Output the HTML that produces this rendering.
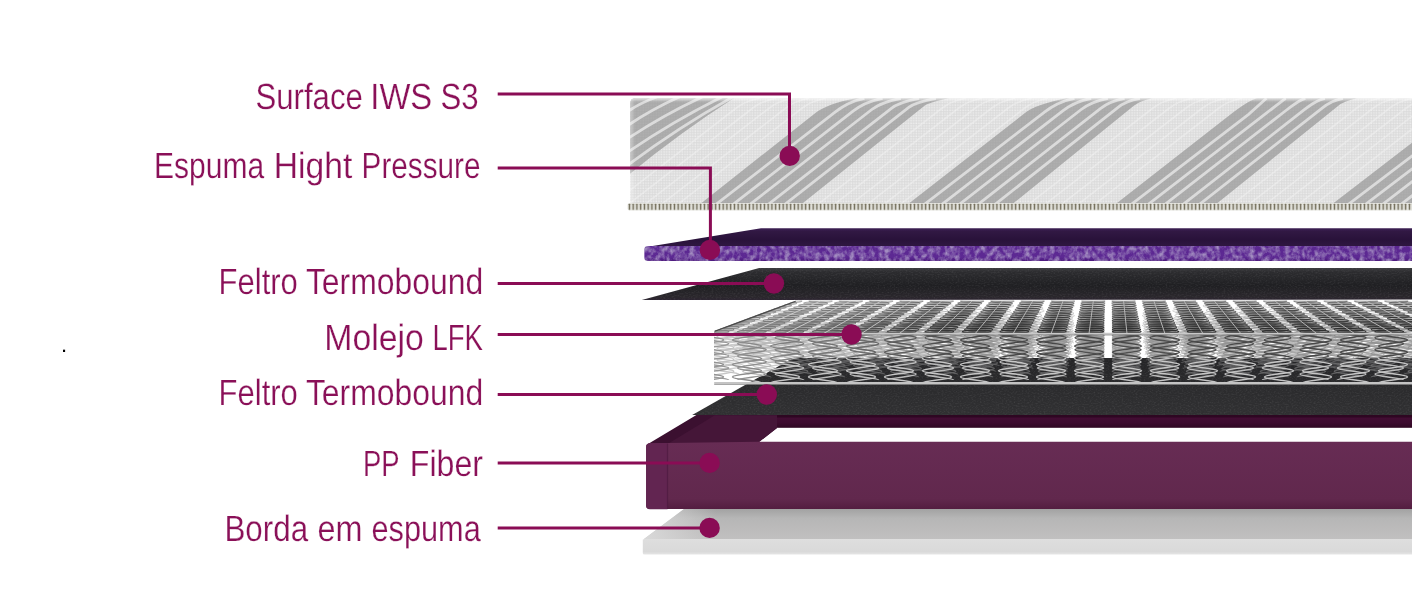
<!DOCTYPE html>
<html lang="pt-BR">
<head>
<meta charset="utf-8">
<title>Camadas do colchão</title>
<style>
html,body{margin:0;padding:0;background:#fff}
body{width:1412px;height:616px;overflow:hidden}
svg{display:block}
</style>
</head>
<body>
<svg width="1412" height="616" viewBox="0 0 1412 616">
<defs>
<pattern id="tex" width="2.6" height="2.6" patternUnits="userSpaceOnUse">
 <rect width="2.6" height="2.6" fill="#d8d8d8"/>
 <rect x="0.3" y="0.3" width="1.7" height="1.7" fill="#ededed"/>
</pattern>
<pattern id="gtex" width="2.6" height="2.6" patternUnits="userSpaceOnUse">
 <rect width="2.6" height="2.6" fill="#a9a9a9"/>
 <rect x="0.3" y="0.3" width="1.7" height="1.7" fill="#b0b0b0"/>
</pattern>
<pattern id="pipe" width="3.75" height="7.6" patternUnits="userSpaceOnUse" x="628" y="203">
 <rect width="3.75" height="7.6" fill="#e6e6e0"/>
 <rect x="0.7" y="0.7" width="1.45" height="6.3" rx=".6" fill="#6f6a56"/>
</pattern>
<linearGradient id="tophl" x1="0" y1="0" x2="0" y2="1">
 <stop offset="0" stop-color="#fff" stop-opacity="1"/>
 <stop offset="0.25" stop-color="#fff" stop-opacity=".75"/>
 <stop offset="1" stop-color="#fff" stop-opacity="0"/>
</linearGradient>
<linearGradient id="lefthl" x1="0" y1="0" x2="1" y2="0">
 <stop offset="0" stop-color="#fff" stop-opacity=".45"/>
 <stop offset="1" stop-color="#fff" stop-opacity="0"/>
</linearGradient>
<linearGradient id="spleft" gradientUnits="userSpaceOnUse" x1="714" y1="0" x2="960" y2="0">
 <stop offset="0" stop-color="#fff" stop-opacity=".42"/>
 <stop offset="1" stop-color="#fff" stop-opacity="0"/>
</linearGradient>
<clipPath id="coverclip"><path d="M630,203 V104 Q630,98 636,98 H1412 V203 Z"/></clipPath>
<linearGradient id="ptop" x1="0" y1="0" x2="0" y2="1">
 <stop offset="0" stop-color="#3d2054"/>
 <stop offset="0.18" stop-color="#311843"/>
 <stop offset="0.6" stop-color="#29123a"/>
 <stop offset="1" stop-color="#2f1742"/>
</linearGradient>
<filter id="speck" x="0" y="0" width="100%" height="100%" color-interpolation-filters="sRGB">
 <feTurbulence type="fractalNoise" baseFrequency="0.2 0.17" numOctaves="3" seed="4" result="n"/>
 <feColorMatrix in="n" type="matrix" values="0 0 0 0 0  0 0 0 0 0  0 0 0 0 0  2.2 0 0 0 -0.78" result="a"/>
 <feFlood flood-color="#a28cc0"/>
 <feComposite operator="in" in2="a" result="light"/>
 <feMerge><feMergeNode in="SourceGraphic"/><feMergeNode in="light"/></feMerge>
 <feComposite operator="in" in2="SourceGraphic"/>
</filter>
<linearGradient id="pfront" x1="0" y1="0" x2="0" y2="1">
 <stop offset="0" stop-color="#5b2791"/>
 <stop offset="0.75" stop-color="#5d2993"/>
 <stop offset="1" stop-color="#4d1a7e"/>
</linearGradient>
<linearGradient id="felt1" x1="0" y1="0" x2="0" y2="1">
 <stop offset="0" stop-color="#3c3c3f"/>
 <stop offset="0.12" stop-color="#2c2c2f"/>
 <stop offset="0.55" stop-color="#1f1f22"/>
 <stop offset="0.9" stop-color="#2a272c"/>
 <stop offset="1" stop-color="#2c2430"/>
</linearGradient>
<linearGradient id="felt2" x1="0" y1="0" x2="0" y2="1">
 <stop offset="0" stop-color="#242426"/>
 <stop offset="0.5" stop-color="#2b2b2d"/>
 <stop offset="1" stop-color="#303032"/>
</linearGradient>
<filter id="feltn" x="0" y="0" width="100%" height="100%" color-interpolation-filters="sRGB">
 <feTurbulence type="fractalNoise" baseFrequency="0.5 0.9" numOctaves="2" seed="9" result="n"/>
 <feColorMatrix in="n" type="matrix" values="0 0 0 0 1  0 0 0 0 1  0 0 0 0 1  1.4 0 0 0 -0.62" result="a"/>
 <feComposite operator="in" in="a" in2="SourceGraphic" result="b"/>
 <feComponentTransfer in="b" result="c"><feFuncA type="linear" slope="0.13"/></feComponentTransfer>
 <feMerge><feMergeNode in="SourceGraphic"/><feMergeNode in="c"/></feMerge>
</filter>
<linearGradient id="ppfront" x1="0" y1="0" x2="0" y2="1">
 <stop offset="0" stop-color="#672c54"/>
 <stop offset="0.85" stop-color="#61284d"/>
 <stop offset="1" stop-color="#531d40"/>
</linearGradient>
<linearGradient id="ppback" x1="0" y1="0" x2="0" y2="1">
 <stop offset="0" stop-color="#440e35"/>
 <stop offset="0.6" stop-color="#3d0c2f"/>
 <stop offset="1" stop-color="#2f0822"/>
</linearGradient>
<linearGradient id="foamtop" gradientUnits="userSpaceOnUse" x1="0" y1="509" x2="0" y2="539.6">
 <stop offset="0" stop-color="#a2a2a2"/>
 <stop offset="0.3" stop-color="#b6b6b6"/>
 <stop offset="1" stop-color="#c1c0c0"/>
</linearGradient>
<linearGradient id="foamleft" x1="0" y1="0" x2="1" y2="0">
 <stop offset="0" stop-color="#dcdcdc" stop-opacity=".9"/>
 <stop offset="1" stop-color="#dcdcdc" stop-opacity="0"/>
</linearGradient>
<linearGradient id="foamfront" x1="0" y1="0" x2="0" y2="1">
 <stop offset="0" stop-color="#dedede"/>
 <stop offset="0.8" stop-color="#d9d9d9"/>
 <stop offset="1" stop-color="#e6e6e6"/>
</linearGradient>
<clipPath id="springclip"><path d="M714,384.5 V331.2 L796,300.6 H1412 V384.5 Z"/></clipPath>
<clipPath id="feltzone"><path d="M692.2,414.9 L793,358 H1412 V414.9 Z"/></clipPath>
<clipPath id="whitezone"><path d="M600,290 H1412 V358 H793 L692.2,414.9 H600 Z"/></clipPath>
<clipPath id="topzone"><path d="M700,290 H1412 V334.5 H700 Z"/></clipPath>
</defs>
<style>.wl{fill:none;stroke:#dbdbdb;stroke-width:2.8}.fl{fill:none;stroke:#f4f4f4;stroke-width:1.6;opacity:.45}.ln{fill:none;stroke:#8a0c55;stroke-width:3}.dot{fill:#8a0c55}text{font-family:"Liberation Sans",sans-serif;text-rendering:geometricPrecision;font-size:36.5px;fill:#8a1058;stroke:#fff;stroke-width:.25}</style>
<rect width="1412" height="616" fill="#fff"/>
<g id="foam">
<polygon points="643.4,539.6 682,510.5 700,497 1412,497 1412,539.6" fill="url(#foamtop)"/>
<polygon points="643.4,539.6 700,497 716,497 716,539.6" fill="url(#foamleft)"/>
<path d="M642.8,539.4 H1412 V554.6 H644.5 Q642.8,554.6 642.8,553 Z" fill="url(#foamfront)"/>
</g>
<g id="pp">
<rect x="770" y="415" width="650" height="12.8" fill="url(#ppback)"/>
<polygon points="648,444 696.4,415 777,415 777,428 759,442 759,444" fill="#3b1030"/>
<polygon points="667.5,444 714.5,415.6 777,415.6 777,428 759,442 759,444" fill="#451638"/>
<polygon points="777,415 1412,415 1412,417.5 777,417.5" fill="#2e0722"/>
<path d="M646.1,447 Q646.1,443.3 650,443.3 L759,441.8 H1412 V509 H650 Q646.1,509 646.1,505.5 Z" fill="url(#ppfront)"/>
<path d="M646.1,447 Q646.1,443.3 650,443.3 H667.5 V509.3 H650 Q646.1,509.3 646.1,505.5 Z" fill="#622551"/>
<rect x="666.9" y="443.5" width="1.2" height="65.5" fill="#4d1a40" opacity=".7"/>
</g>
<polygon points="692.2,414.9 793,358 1412,358 1412,414.9" fill="url(#felt2)" filter="url(#feltn)"/>
<defs><g id="coilsB">
<path d="M801.9,301C801.9,303.1 778.7,303.8 778.7,305.9S801.9,308.7 801.9,310.8S778.7,313.7 778.7,315.7S801.9,318.6 801.9,320.6S778.7,323.5 778.7,325.5S801.9,328.4 801.9,330.4S778.7,333.3 778.7,335.3S801.9,338.2 801.9,340.2 M809,301C809,303.1 832.1,303.8 832.1,305.9S809,308.7 809,310.8S832.1,313.7 832.1,315.7S809,318.6 809,320.6S832.1,323.5 832.1,325.5S809,328.4 809,330.4S832.1,333.3 832.1,335.3S809,338.2 809,340.2 M862.4,301C862.4,303.1 839.3,303.8 839.3,305.9S862.4,308.7 862.4,310.8S839.3,313.7 839.3,315.7S862.4,318.6 862.4,320.6S839.3,323.5 839.3,325.5S862.4,328.4 862.4,330.4S839.3,333.3 839.3,335.3S862.4,338.2 862.4,340.2 M869.6,301C869.6,303.1 892.7,303.8 892.7,305.9S869.6,308.7 869.6,310.8S892.7,313.7 892.7,315.7S869.6,318.6 869.6,320.6S892.7,323.5 892.7,325.5S869.6,328.4 869.6,330.4S892.7,333.3 892.7,335.3S869.6,338.2 869.6,340.2 M923,301C923,303.1 899.9,303.8 899.9,305.9S923,308.7 923,310.8S899.9,313.7 899.9,315.7S923,318.6 923,320.6S899.9,323.5 899.9,325.5S923,328.4 923,330.4S899.9,333.3 899.9,335.3S923,338.2 923,340.2 M930.2,301C930.2,303.1 953.3,303.8 953.3,305.9S930.2,308.7 930.2,310.8S953.3,313.7 953.3,315.7S930.2,318.6 930.2,320.6S953.3,323.5 953.3,325.5S930.2,328.4 930.2,330.4S953.3,333.3 953.3,335.3S930.2,338.2 930.2,340.2 M983.6,301C983.6,303.1 960.5,303.8 960.5,305.9S983.6,308.7 983.6,310.8S960.5,313.7 960.5,315.7S983.6,318.6 983.6,320.6S960.5,323.5 960.5,325.5S983.6,328.4 983.6,330.4S960.5,333.3 960.5,335.3S983.6,338.2 983.6,340.2 M990.8,301C990.8,303.1 1013.9,303.8 1013.9,305.9S990.8,308.7 990.8,310.8S1013.9,313.7 1013.9,315.7S990.8,318.6 990.8,320.6S1013.9,323.5 1013.9,325.5S990.8,328.4 990.8,330.4S1013.9,333.3 1013.9,335.3S990.8,338.2 990.8,340.2 M1044.2,301C1044.2,303.1 1021.1,303.8 1021.1,305.9S1044.2,308.7 1044.2,310.8S1021.1,313.7 1021.1,315.7S1044.2,318.6 1044.2,320.6S1021.1,323.5 1021.1,325.5S1044.2,328.4 1044.2,330.4S1021.1,333.3 1021.1,335.3S1044.2,338.2 1044.2,340.2 M1051.4,301C1051.4,303.1 1074.5,303.8 1074.5,305.9S1051.4,308.7 1051.4,310.8S1074.5,313.7 1074.5,315.7S1051.4,318.6 1051.4,320.6S1074.5,323.5 1074.5,325.5S1051.4,328.4 1051.4,330.4S1074.5,333.3 1074.5,335.3S1051.4,338.2 1051.4,340.2 M1104.8,301C1104.8,303.1 1081.7,303.8 1081.7,305.9S1104.8,308.7 1104.8,310.8S1081.7,313.7 1081.7,315.7S1104.8,318.6 1104.8,320.6S1081.7,323.5 1081.7,325.5S1104.8,328.4 1104.8,330.4S1081.7,333.3 1081.7,335.3S1104.8,338.2 1104.8,340.2 M1112,301C1112,303.1 1135.1,303.8 1135.1,305.9S1112,308.7 1112,310.8S1135.1,313.7 1135.1,315.7S1112,318.6 1112,320.6S1135.1,323.5 1135.1,325.5S1112,328.4 1112,330.4S1135.1,333.3 1135.1,335.3S1112,338.2 1112,340.2 M1165.4,301C1165.4,303.1 1142.3,303.8 1142.3,305.9S1165.4,308.7 1165.4,310.8S1142.3,313.7 1142.3,315.7S1165.4,318.6 1165.4,320.6S1142.3,323.5 1142.3,325.5S1165.4,328.4 1165.4,330.4S1142.3,333.3 1142.3,335.3S1165.4,338.2 1165.4,340.2 M1172.6,301C1172.6,303.1 1195.7,303.8 1195.7,305.9S1172.6,308.7 1172.6,310.8S1195.7,313.7 1195.7,315.7S1172.6,318.6 1172.6,320.6S1195.7,323.5 1195.7,325.5S1172.6,328.4 1172.6,330.4S1195.7,333.3 1195.7,335.3S1172.6,338.2 1172.6,340.2 M1226,301C1226,303.1 1202.9,303.8 1202.9,305.9S1226,308.7 1226,310.8S1202.9,313.7 1202.9,315.7S1226,318.6 1226,320.6S1202.9,323.5 1202.9,325.5S1226,328.4 1226,330.4S1202.9,333.3 1202.9,335.3S1226,338.2 1226,340.2 M1233.2,301C1233.2,303.1 1256.3,303.8 1256.3,305.9S1233.2,308.7 1233.2,310.8S1256.3,313.7 1256.3,315.7S1233.2,318.6 1233.2,320.6S1256.3,323.5 1256.3,325.5S1233.2,328.4 1233.2,330.4S1256.3,333.3 1256.3,335.3S1233.2,338.2 1233.2,340.2 M1286.6,301C1286.6,303.1 1263.5,303.8 1263.5,305.9S1286.6,308.7 1286.6,310.8S1263.5,313.7 1263.5,315.7S1286.6,318.6 1286.6,320.6S1263.5,323.5 1263.5,325.5S1286.6,328.4 1286.6,330.4S1263.5,333.3 1263.5,335.3S1286.6,338.2 1286.6,340.2 M1293.8,301C1293.8,303.1 1316.9,303.8 1316.9,305.9S1293.8,308.7 1293.8,310.8S1316.9,313.7 1316.9,315.7S1293.8,318.6 1293.8,320.6S1316.9,323.5 1316.9,325.5S1293.8,328.4 1293.8,330.4S1316.9,333.3 1316.9,335.3S1293.8,338.2 1293.8,340.2 M1347.2,301C1347.2,303.1 1324.1,303.8 1324.1,305.9S1347.2,308.7 1347.2,310.8S1324.1,313.7 1324.1,315.7S1347.2,318.6 1347.2,320.6S1324.1,323.5 1324.1,325.5S1347.2,328.4 1347.2,330.4S1324.1,333.3 1324.1,335.3S1347.2,338.2 1347.2,340.2 M1354.4,301C1354.4,303.1 1377.5,303.8 1377.5,305.9S1354.4,308.7 1354.4,310.8S1377.5,313.7 1377.5,315.7S1354.4,318.6 1354.4,320.6S1377.5,323.5 1377.5,325.5S1354.4,328.4 1354.4,330.4S1377.5,333.3 1377.5,335.3S1354.4,338.2 1354.4,340.2 M1407.8,301C1407.8,303.1 1384.7,303.8 1384.7,305.9S1407.8,308.7 1407.8,310.8S1384.7,313.7 1384.7,315.7S1407.8,318.6 1407.8,320.6S1384.7,323.5 1384.7,325.5S1407.8,328.4 1407.8,330.4S1384.7,333.3 1384.7,335.3S1407.8,338.2 1407.8,340.2 M1415,301C1415,303.1 1438.1,303.8 1438.1,305.9S1415,308.7 1415,310.8S1438.1,313.7 1438.1,315.7S1415,318.6 1415,320.6S1438.1,323.5 1438.1,325.5S1415,328.4 1415,330.4S1438.1,333.3 1438.1,335.3S1415,338.2 1415,340.2" stroke-opacity="0.42" stroke-width="0.9"/>
<path d="M773.1,303.2C773.1,305.3 796.6,306.1 796.6,308.2S773.1,311.1 773.1,313.2S796.6,316.1 796.6,318.1S773.1,321 773.1,323.1S796.6,326 796.6,328.1S773.1,331 773.1,333.1S796.6,336 796.6,338.1S773.1,341 773.1,343.1 M827.4,303.2C827.4,305.3 803.9,306.1 803.9,308.2S827.4,311.1 827.4,313.2S803.9,316.1 803.9,318.1S827.4,321 827.4,323.1S803.9,326 803.9,328.1S827.4,331 827.4,333.1S803.9,336 803.9,338.1S827.4,341 827.4,343.1 M834.7,303.2C834.7,305.3 858.2,306.1 858.2,308.2S834.7,311.1 834.7,313.2S858.2,316.1 858.2,318.1S834.7,321 834.7,323.1S858.2,326 858.2,328.1S834.7,331 834.7,333.1S858.2,336 858.2,338.1S834.7,341 834.7,343.1 M889.1,303.2C889.1,305.3 865.5,306.1 865.5,308.2S889.1,311.1 889.1,313.2S865.5,316.1 865.5,318.1S889.1,321 889.1,323.1S865.5,326 865.5,328.1S889.1,331 889.1,333.1S865.5,336 865.5,338.1S889.1,341 889.1,343.1 M896.4,303.2C896.4,305.3 919.9,306.1 919.9,308.2S896.4,311.1 896.4,313.2S919.9,316.1 919.9,318.1S896.4,321 896.4,323.1S919.9,326 919.9,328.1S896.4,331 896.4,333.1S919.9,336 919.9,338.1S896.4,341 896.4,343.1 M950.7,303.2C950.7,305.3 927.2,306.1 927.2,308.2S950.7,311.1 950.7,313.2S927.2,316.1 927.2,318.1S950.7,321 950.7,323.1S927.2,326 927.2,328.1S950.7,331 950.7,333.1S927.2,336 927.2,338.1S950.7,341 950.7,343.1 M958,303.2C958,305.3 981.5,306.1 981.5,308.2S958,311.1 958,313.2S981.5,316.1 981.5,318.1S958,321 958,323.1S981.5,326 981.5,328.1S958,331 958,333.1S981.5,336 981.5,338.1S958,341 958,343.1 M1012.3,303.2C1012.3,305.3 988.8,306.1 988.8,308.2S1012.3,311.1 1012.3,313.2S988.8,316.1 988.8,318.1S1012.3,321 1012.3,323.1S988.8,326 988.8,328.1S1012.3,331 1012.3,333.1S988.8,336 988.8,338.1S1012.3,341 1012.3,343.1 M1019.6,303.2C1019.6,305.3 1043.1,306.1 1043.1,308.2S1019.6,311.1 1019.6,313.2S1043.1,316.1 1043.1,318.1S1019.6,321 1019.6,323.1S1043.1,326 1043.1,328.1S1019.6,331 1019.6,333.1S1043.1,336 1043.1,338.1S1019.6,341 1019.6,343.1 M1073.9,303.2C1073.9,305.3 1050.4,306.1 1050.4,308.2S1073.9,311.1 1073.9,313.2S1050.4,316.1 1050.4,318.1S1073.9,321 1073.9,323.1S1050.4,326 1050.4,328.1S1073.9,331 1073.9,333.1S1050.4,336 1050.4,338.1S1073.9,341 1073.9,343.1 M1081.2,303.2C1081.2,305.3 1104.7,306.1 1104.7,308.2S1081.2,311.1 1081.2,313.2S1104.7,316.1 1104.7,318.1S1081.2,321 1081.2,323.1S1104.7,326 1104.7,328.1S1081.2,331 1081.2,333.1S1104.7,336 1104.7,338.1S1081.2,341 1081.2,343.1 M1135.5,303.2C1135.5,305.3 1112,306.1 1112,308.2S1135.5,311.1 1135.5,313.2S1112,316.1 1112,318.1S1135.5,321 1135.5,323.1S1112,326 1112,328.1S1135.5,331 1135.5,333.1S1112,336 1112,338.1S1135.5,341 1135.5,343.1 M1142.8,303.2C1142.8,305.3 1166.4,306.1 1166.4,308.2S1142.8,311.1 1142.8,313.2S1166.4,316.1 1166.4,318.1S1142.8,321 1142.8,323.1S1166.4,326 1166.4,328.1S1142.8,331 1142.8,333.1S1166.4,336 1166.4,338.1S1142.8,341 1142.8,343.1 M1197.2,303.2C1197.2,305.3 1173.6,306.1 1173.6,308.2S1197.2,311.1 1197.2,313.2S1173.6,316.1 1173.6,318.1S1197.2,321 1197.2,323.1S1173.6,326 1173.6,328.1S1197.2,331 1197.2,333.1S1173.6,336 1173.6,338.1S1197.2,341 1197.2,343.1 M1204.5,303.2C1204.5,305.3 1228,306.1 1228,308.2S1204.5,311.1 1204.5,313.2S1228,316.1 1228,318.1S1204.5,321 1204.5,323.1S1228,326 1228,328.1S1204.5,331 1204.5,333.1S1228,336 1228,338.1S1204.5,341 1204.5,343.1 M1258.8,303.2C1258.8,305.3 1235.3,306.1 1235.3,308.2S1258.8,311.1 1258.8,313.2S1235.3,316.1 1235.3,318.1S1258.8,321 1258.8,323.1S1235.3,326 1235.3,328.1S1258.8,331 1258.8,333.1S1235.3,336 1235.3,338.1S1258.8,341 1258.8,343.1 M1266.1,303.2C1266.1,305.3 1289.6,306.1 1289.6,308.2S1266.1,311.1 1266.1,313.2S1289.6,316.1 1289.6,318.1S1266.1,321 1266.1,323.1S1289.6,326 1289.6,328.1S1266.1,331 1266.1,333.1S1289.6,336 1289.6,338.1S1266.1,341 1266.1,343.1 M1320.4,303.2C1320.4,305.3 1296.9,306.1 1296.9,308.2S1320.4,311.1 1320.4,313.2S1296.9,316.1 1296.9,318.1S1320.4,321 1320.4,323.1S1296.9,326 1296.9,328.1S1320.4,331 1320.4,333.1S1296.9,336 1296.9,338.1S1320.4,341 1320.4,343.1 M1327.7,303.2C1327.7,305.3 1351.2,306.1 1351.2,308.2S1327.7,311.1 1327.7,313.2S1351.2,316.1 1351.2,318.1S1327.7,321 1327.7,323.1S1351.2,326 1351.2,328.1S1327.7,331 1327.7,333.1S1351.2,336 1351.2,338.1S1327.7,341 1327.7,343.1 M1382,303.2C1382,305.3 1358.5,306.1 1358.5,308.2S1382,311.1 1382,313.2S1358.5,316.1 1358.5,318.1S1382,321 1382,323.1S1358.5,326 1358.5,328.1S1382,331 1382,333.1S1358.5,336 1358.5,338.1S1382,341 1382,343.1 M1389.3,303.2C1389.3,305.3 1412.8,306.1 1412.8,308.2S1389.3,311.1 1389.3,313.2S1412.8,316.1 1412.8,318.1S1389.3,321 1389.3,323.1S1412.8,326 1412.8,328.1S1389.3,331 1389.3,333.1S1412.8,336 1412.8,338.1S1389.3,341 1389.3,343.1 M1443.6,303.2C1443.6,305.3 1420.1,306.1 1420.1,308.2S1443.6,311.1 1443.6,313.2S1420.1,316.1 1420.1,318.1S1443.6,321 1443.6,323.1S1420.1,326 1420.1,328.1S1443.6,331 1443.6,333.1S1420.1,336 1420.1,338.1S1443.6,341 1443.6,343.1" stroke-opacity="0.42" stroke-width="1"/>
<path d="M791.4,305.4C791.4,307.5 767.5,308.3 767.5,310.4S791.4,313.4 791.4,315.5S767.5,318.5 767.5,320.6S791.4,323.5 791.4,325.7S767.5,328.6 767.5,330.7S791.4,333.7 791.4,335.8S767.5,338.7 767.5,340.9S791.4,343.8 791.4,345.9 M798.8,305.4C798.8,307.5 822.7,308.3 822.7,310.4S798.8,313.4 798.8,315.5S822.7,318.5 822.7,320.6S798.8,323.5 798.8,325.7S822.7,328.6 822.7,330.7S798.8,333.7 798.8,335.8S822.7,338.7 822.7,340.9S798.8,343.8 798.8,345.9 M854.1,305.4C854.1,307.5 830.1,308.3 830.1,310.4S854.1,313.4 854.1,315.5S830.1,318.5 830.1,320.6S854.1,323.5 854.1,325.7S830.1,328.6 830.1,330.7S854.1,333.7 854.1,335.8S830.1,338.7 830.1,340.9S854.1,343.8 854.1,345.9 M861.5,305.4C861.5,307.5 885.4,308.3 885.4,310.4S861.5,313.4 861.5,315.5S885.4,318.5 885.4,320.6S861.5,323.5 861.5,325.7S885.4,328.6 885.4,330.7S861.5,333.7 861.5,335.8S885.4,338.7 885.4,340.9S861.5,343.8 861.5,345.9 M916.7,305.4C916.7,307.5 892.8,308.3 892.8,310.4S916.7,313.4 916.7,315.5S892.8,318.5 892.8,320.6S916.7,323.5 916.7,325.7S892.8,328.6 892.8,330.7S916.7,333.7 916.7,335.8S892.8,338.7 892.8,340.9S916.7,343.8 916.7,345.9 M924.1,305.4C924.1,307.5 948,308.3 948,310.4S924.1,313.4 924.1,315.5S948,318.5 948,320.6S924.1,323.5 924.1,325.7S948,328.6 948,330.7S924.1,333.7 924.1,335.8S948,338.7 948,340.9S924.1,343.8 924.1,345.9 M979.3,305.4C979.3,307.5 955.4,308.3 955.4,310.4S979.3,313.4 979.3,315.5S955.4,318.5 955.4,320.6S979.3,323.5 979.3,325.7S955.4,328.6 955.4,330.7S979.3,333.7 979.3,335.8S955.4,338.7 955.4,340.9S979.3,343.8 979.3,345.9 M986.8,305.4C986.8,307.5 1010.7,308.3 1010.7,310.4S986.8,313.4 986.8,315.5S1010.7,318.5 1010.7,320.6S986.8,323.5 986.8,325.7S1010.7,328.6 1010.7,330.7S986.8,333.7 986.8,335.8S1010.7,338.7 1010.7,340.9S986.8,343.8 986.8,345.9 M1042,305.4C1042,307.5 1018.1,308.3 1018.1,310.4S1042,313.4 1042,315.5S1018.1,318.5 1018.1,320.6S1042,323.5 1042,325.7S1018.1,328.6 1018.1,330.7S1042,333.7 1042,335.8S1018.1,338.7 1018.1,340.9S1042,343.8 1042,345.9 M1049.4,305.4C1049.4,307.5 1073.3,308.3 1073.3,310.4S1049.4,313.4 1049.4,315.5S1073.3,318.5 1073.3,320.6S1049.4,323.5 1049.4,325.7S1073.3,328.6 1073.3,330.7S1049.4,333.7 1049.4,335.8S1073.3,338.7 1073.3,340.9S1049.4,343.8 1049.4,345.9 M1104.6,305.4C1104.6,307.5 1080.7,308.3 1080.7,310.4S1104.6,313.4 1104.6,315.5S1080.7,318.5 1080.7,320.6S1104.6,323.5 1104.6,325.7S1080.7,328.6 1080.7,330.7S1104.6,333.7 1104.6,335.8S1080.7,338.7 1080.7,340.9S1104.6,343.8 1104.6,345.9 M1112.1,305.4C1112.1,307.5 1136,308.3 1136,310.4S1112.1,313.4 1112.1,315.5S1136,318.5 1136,320.6S1112.1,323.5 1112.1,325.7S1136,328.6 1136,330.7S1112.1,333.7 1112.1,335.8S1136,338.7 1136,340.9S1112.1,343.8 1112.1,345.9 M1167.3,305.4C1167.3,307.5 1143.4,308.3 1143.4,310.4S1167.3,313.4 1167.3,315.5S1143.4,318.5 1143.4,320.6S1167.3,323.5 1167.3,325.7S1143.4,328.6 1143.4,330.7S1167.3,333.7 1167.3,335.8S1143.4,338.7 1143.4,340.9S1167.3,343.8 1167.3,345.9 M1174.7,305.4C1174.7,307.5 1198.6,308.3 1198.6,310.4S1174.7,313.4 1174.7,315.5S1198.6,318.5 1198.6,320.6S1174.7,323.5 1174.7,325.7S1198.6,328.6 1198.6,330.7S1174.7,333.7 1174.7,335.8S1198.6,338.7 1198.6,340.9S1174.7,343.8 1174.7,345.9 M1229.9,305.4C1229.9,307.5 1206,308.3 1206,310.4S1229.9,313.4 1229.9,315.5S1206,318.5 1206,320.6S1229.9,323.5 1229.9,325.7S1206,328.6 1206,330.7S1229.9,333.7 1229.9,335.8S1206,338.7 1206,340.9S1229.9,343.8 1229.9,345.9 M1237.4,305.4C1237.4,307.5 1261.3,308.3 1261.3,310.4S1237.4,313.4 1237.4,315.5S1261.3,318.5 1261.3,320.6S1237.4,323.5 1237.4,325.7S1261.3,328.6 1261.3,330.7S1237.4,333.7 1237.4,335.8S1261.3,338.7 1261.3,340.9S1237.4,343.8 1237.4,345.9 M1292.6,305.4C1292.6,307.5 1268.7,308.3 1268.7,310.4S1292.6,313.4 1292.6,315.5S1268.7,318.5 1268.7,320.6S1292.6,323.5 1292.6,325.7S1268.7,328.6 1268.7,330.7S1292.6,333.7 1292.6,335.8S1268.7,338.7 1268.7,340.9S1292.6,343.8 1292.6,345.9 M1300,305.4C1300,307.5 1323.9,308.3 1323.9,310.4S1300,313.4 1300,315.5S1323.9,318.5 1323.9,320.6S1300,323.5 1300,325.7S1323.9,328.6 1323.9,330.7S1300,333.7 1300,335.8S1323.9,338.7 1323.9,340.9S1300,343.8 1300,345.9 M1355.2,305.4C1355.2,307.5 1331.3,308.3 1331.3,310.4S1355.2,313.4 1355.2,315.5S1331.3,318.5 1331.3,320.6S1355.2,323.5 1355.2,325.7S1331.3,328.6 1331.3,330.7S1355.2,333.7 1355.2,335.8S1331.3,338.7 1331.3,340.9S1355.2,343.8 1355.2,345.9 M1362.7,305.4C1362.7,307.5 1386.6,308.3 1386.6,310.4S1362.7,313.4 1362.7,315.5S1386.6,318.5 1386.6,320.6S1362.7,323.5 1362.7,325.7S1386.6,328.6 1386.6,330.7S1362.7,333.7 1362.7,335.8S1386.6,338.7 1386.6,340.9S1362.7,343.8 1362.7,345.9 M1417.9,305.4C1417.9,307.5 1394,308.3 1394,310.4S1417.9,313.4 1417.9,315.5S1394,318.5 1394,320.6S1417.9,323.5 1417.9,325.7S1394,328.6 1394,330.7S1417.9,333.7 1417.9,335.8S1394,338.7 1394,340.9S1417.9,343.8 1417.9,345.9 M1425.3,305.4C1425.3,307.5 1449.2,308.3 1449.2,310.4S1425.3,313.4 1425.3,315.5S1449.2,318.5 1449.2,320.6S1425.3,323.5 1425.3,325.7S1449.2,328.6 1449.2,330.7S1425.3,333.7 1425.3,335.8S1449.2,338.7 1449.2,340.9S1425.3,343.8 1425.3,345.9" stroke-opacity="0.44" stroke-width="1"/>
<path d="M761.9,307.6C761.9,309.7 786.2,310.5 786.2,312.7S761.9,315.7 761.9,317.9S786.2,320.9 786.2,323S761.9,326 761.9,328.2S786.2,331.2 786.2,333.3S761.9,336.3 761.9,338.5S786.2,341.5 786.2,343.6S761.9,346.6 761.9,348.8 M818,307.6C818,309.7 793.7,310.5 793.7,312.7S818,315.7 818,317.9S793.7,320.9 793.7,323S818,326 818,328.2S793.7,331.2 793.7,333.3S818,336.3 818,338.5S793.7,341.5 793.7,343.6S818,346.6 818,348.8 M825.6,307.6C825.6,309.7 849.9,310.5 849.9,312.7S825.6,315.7 825.6,317.9S849.9,320.9 849.9,323S825.6,326 825.6,328.2S849.9,331.2 849.9,333.3S825.6,336.3 825.6,338.5S849.9,341.5 849.9,343.6S825.6,346.6 825.6,348.8 M881.7,307.6C881.7,309.7 857.4,310.5 857.4,312.7S881.7,315.7 881.7,317.9S857.4,320.9 857.4,323S881.7,326 881.7,328.2S857.4,331.2 857.4,333.3S881.7,336.3 881.7,338.5S857.4,341.5 857.4,343.6S881.7,346.6 881.7,348.8 M889.2,307.6C889.2,309.7 913.5,310.5 913.5,312.7S889.2,315.7 889.2,317.9S913.5,320.9 913.5,323S889.2,326 889.2,328.2S913.5,331.2 913.5,333.3S889.2,336.3 889.2,338.5S913.5,341.5 913.5,343.6S889.2,346.6 889.2,348.8 M945.4,307.6C945.4,309.7 921.1,310.5 921.1,312.7S945.4,315.7 945.4,317.9S921.1,320.9 921.1,323S945.4,326 945.4,328.2S921.1,331.2 921.1,333.3S945.4,336.3 945.4,338.5S921.1,341.5 921.1,343.6S945.4,346.6 945.4,348.8 M952.9,307.6C952.9,309.7 977.2,310.5 977.2,312.7S952.9,315.7 952.9,317.9S977.2,320.9 977.2,323S952.9,326 952.9,328.2S977.2,331.2 977.2,333.3S952.9,336.3 952.9,338.5S977.2,341.5 977.2,343.6S952.9,346.6 952.9,348.8 M1009,307.6C1009,309.7 984.7,310.5 984.7,312.7S1009,315.7 1009,317.9S984.7,320.9 984.7,323S1009,326 1009,328.2S984.7,331.2 984.7,333.3S1009,336.3 1009,338.5S984.7,341.5 984.7,343.6S1009,346.6 1009,348.8 M1016.6,307.6C1016.6,309.7 1040.9,310.5 1040.9,312.7S1016.6,315.7 1016.6,317.9S1040.9,320.9 1040.9,323S1016.6,326 1016.6,328.2S1040.9,331.2 1040.9,333.3S1016.6,336.3 1016.6,338.5S1040.9,341.5 1040.9,343.6S1016.6,346.6 1016.6,348.8 M1072.7,307.6C1072.7,309.7 1048.4,310.5 1048.4,312.7S1072.7,315.7 1072.7,317.9S1048.4,320.9 1048.4,323S1072.7,326 1072.7,328.2S1048.4,331.2 1048.4,333.3S1072.7,336.3 1072.7,338.5S1048.4,341.5 1048.4,343.6S1072.7,346.6 1072.7,348.8 M1080.3,307.6C1080.3,309.7 1104.6,310.5 1104.6,312.7S1080.3,315.7 1080.3,317.9S1104.6,320.9 1104.6,323S1080.3,326 1080.3,328.2S1104.6,331.2 1104.6,333.3S1080.3,336.3 1080.3,338.5S1104.6,341.5 1104.6,343.6S1080.3,346.6 1080.3,348.8 M1136.4,307.6C1136.4,309.7 1112.1,310.5 1112.1,312.7S1136.4,315.7 1136.4,317.9S1112.1,320.9 1112.1,323S1136.4,326 1136.4,328.2S1112.1,331.2 1112.1,333.3S1136.4,336.3 1136.4,338.5S1112.1,341.5 1112.1,343.6S1136.4,346.6 1136.4,348.8 M1143.9,307.6C1143.9,309.7 1168.2,310.5 1168.2,312.7S1143.9,315.7 1143.9,317.9S1168.2,320.9 1168.2,323S1143.9,326 1143.9,328.2S1168.2,331.2 1168.2,333.3S1143.9,336.3 1143.9,338.5S1168.2,341.5 1168.2,343.6S1143.9,346.6 1143.9,348.8 M1200.1,307.6C1200.1,309.7 1175.8,310.5 1175.8,312.7S1200.1,315.7 1200.1,317.9S1175.8,320.9 1175.8,323S1200.1,326 1200.1,328.2S1175.8,331.2 1175.8,333.3S1200.1,336.3 1200.1,338.5S1175.8,341.5 1175.8,343.6S1200.1,346.6 1200.1,348.8 M1207.6,307.6C1207.6,309.7 1231.9,310.5 1231.9,312.7S1207.6,315.7 1207.6,317.9S1231.9,320.9 1231.9,323S1207.6,326 1207.6,328.2S1231.9,331.2 1231.9,333.3S1207.6,336.3 1207.6,338.5S1231.9,341.5 1231.9,343.6S1207.6,346.6 1207.6,348.8 M1263.7,307.6C1263.7,309.7 1239.4,310.5 1239.4,312.7S1263.7,315.7 1263.7,317.9S1239.4,320.9 1239.4,323S1263.7,326 1263.7,328.2S1239.4,331.2 1239.4,333.3S1263.7,336.3 1263.7,338.5S1239.4,341.5 1239.4,343.6S1263.7,346.6 1263.7,348.8 M1271.3,307.6C1271.3,309.7 1295.6,310.5 1295.6,312.7S1271.3,315.7 1271.3,317.9S1295.6,320.9 1295.6,323S1271.3,326 1271.3,328.2S1295.6,331.2 1295.6,333.3S1271.3,336.3 1271.3,338.5S1295.6,341.5 1295.6,343.6S1271.3,346.6 1271.3,348.8 M1327.4,307.6C1327.4,309.7 1303.1,310.5 1303.1,312.7S1327.4,315.7 1327.4,317.9S1303.1,320.9 1303.1,323S1327.4,326 1327.4,328.2S1303.1,331.2 1303.1,333.3S1327.4,336.3 1327.4,338.5S1303.1,341.5 1303.1,343.6S1327.4,346.6 1327.4,348.8 M1335,307.6C1335,309.7 1359.3,310.5 1359.3,312.7S1335,315.7 1335,317.9S1359.3,320.9 1359.3,323S1335,326 1335,328.2S1359.3,331.2 1359.3,333.3S1335,336.3 1335,338.5S1359.3,341.5 1359.3,343.6S1335,346.6 1335,348.8 M1391.1,307.6C1391.1,309.7 1366.8,310.5 1366.8,312.7S1391.1,315.7 1391.1,317.9S1366.8,320.9 1366.8,323S1391.1,326 1391.1,328.2S1366.8,331.2 1366.8,333.3S1391.1,336.3 1391.1,338.5S1366.8,341.5 1366.8,343.6S1391.1,346.6 1391.1,348.8 M1398.6,307.6C1398.6,309.7 1422.9,310.5 1422.9,312.7S1398.6,315.7 1398.6,317.9S1422.9,320.9 1422.9,323S1398.6,326 1398.6,328.2S1422.9,331.2 1422.9,333.3S1398.6,336.3 1398.6,338.5S1422.9,341.5 1422.9,343.6S1398.6,346.6 1398.6,348.8 M1454.8,307.6C1454.8,309.7 1430.5,310.5 1430.5,312.7S1454.8,315.7 1454.8,317.9S1430.5,320.9 1430.5,323S1454.8,326 1454.8,328.2S1430.5,331.2 1430.5,333.3S1454.8,336.3 1454.8,338.5S1430.5,341.5 1430.5,343.6S1454.8,346.6 1454.8,348.8" stroke-opacity="0.45" stroke-width="1.1"/>
<path d="M781,309.7C781,311.9 756.3,312.8 756.3,315S781,318 781,320.2S756.3,323.3 756.3,325.5S781,328.5 781,330.7S756.3,333.7 756.3,335.9S781,339 781,341.2S756.3,344.2 756.3,346.4S781,349.4 781,351.6 M788.6,309.7C788.6,311.9 813.3,312.8 813.3,315S788.6,318 788.6,320.2S813.3,323.3 813.3,325.5S788.6,328.5 788.6,330.7S813.3,333.7 813.3,335.9S788.6,339 788.6,341.2S813.3,344.2 813.3,346.4S788.6,349.4 788.6,351.6 M845.7,309.7C845.7,311.9 821,312.8 821,315S845.7,318 845.7,320.2S821,323.3 821,325.5S845.7,328.5 845.7,330.7S821,333.7 821,335.9S845.7,339 845.7,341.2S821,344.2 821,346.4S845.7,349.4 845.7,351.6 M853.3,309.7C853.3,311.9 878,312.8 878,315S853.3,318 853.3,320.2S878,323.3 878,325.5S853.3,328.5 853.3,330.7S878,333.7 878,335.9S853.3,339 853.3,341.2S878,344.2 878,346.4S853.3,349.4 853.3,351.6 M910.4,309.7C910.4,311.9 885.7,312.8 885.7,315S910.4,318 910.4,320.2S885.7,323.3 885.7,325.5S910.4,328.5 910.4,330.7S885.7,333.7 885.7,335.9S910.4,339 910.4,341.2S885.7,344.2 885.7,346.4S910.4,349.4 910.4,351.6 M918,309.7C918,311.9 942.7,312.8 942.7,315S918,318 918,320.2S942.7,323.3 942.7,325.5S918,328.5 918,330.7S942.7,333.7 942.7,335.9S918,339 918,341.2S942.7,344.2 942.7,346.4S918,349.4 918,351.6 M975.1,309.7C975.1,311.9 950.4,312.8 950.4,315S975.1,318 975.1,320.2S950.4,323.3 950.4,325.5S975.1,328.5 975.1,330.7S950.4,333.7 950.4,335.9S975.1,339 975.1,341.2S950.4,344.2 950.4,346.4S975.1,349.4 975.1,351.6 M982.7,309.7C982.7,311.9 1007.4,312.8 1007.4,315S982.7,318 982.7,320.2S1007.4,323.3 1007.4,325.5S982.7,328.5 982.7,330.7S1007.4,333.7 1007.4,335.9S982.7,339 982.7,341.2S1007.4,344.2 1007.4,346.4S982.7,349.4 982.7,351.6 M1039.8,309.7C1039.8,311.9 1015.1,312.8 1015.1,315S1039.8,318 1039.8,320.2S1015.1,323.3 1015.1,325.5S1039.8,328.5 1039.8,330.7S1015.1,333.7 1015.1,335.9S1039.8,339 1039.8,341.2S1015.1,344.2 1015.1,346.4S1039.8,349.4 1039.8,351.6 M1047.4,309.7C1047.4,311.9 1072.1,312.8 1072.1,315S1047.4,318 1047.4,320.2S1072.1,323.3 1072.1,325.5S1047.4,328.5 1047.4,330.7S1072.1,333.7 1072.1,335.9S1047.4,339 1047.4,341.2S1072.1,344.2 1072.1,346.4S1047.4,349.4 1047.4,351.6 M1104.5,309.7C1104.5,311.9 1079.8,312.8 1079.8,315S1104.5,318 1104.5,320.2S1079.8,323.3 1079.8,325.5S1104.5,328.5 1104.5,330.7S1079.8,333.7 1079.8,335.9S1104.5,339 1104.5,341.2S1079.8,344.2 1079.8,346.4S1104.5,349.4 1104.5,351.6 M1112.1,309.7C1112.1,311.9 1136.8,312.8 1136.8,315S1112.1,318 1112.1,320.2S1136.8,323.3 1136.8,325.5S1112.1,328.5 1112.1,330.7S1136.8,333.7 1136.8,335.9S1112.1,339 1112.1,341.2S1136.8,344.2 1136.8,346.4S1112.1,349.4 1112.1,351.6 M1169.2,309.7C1169.2,311.9 1144.5,312.8 1144.5,315S1169.2,318 1169.2,320.2S1144.5,323.3 1144.5,325.5S1169.2,328.5 1169.2,330.7S1144.5,333.7 1144.5,335.9S1169.2,339 1169.2,341.2S1144.5,344.2 1144.5,346.4S1169.2,349.4 1169.2,351.6 M1176.8,309.7C1176.8,311.9 1201.5,312.8 1201.5,315S1176.8,318 1176.8,320.2S1201.5,323.3 1201.5,325.5S1176.8,328.5 1176.8,330.7S1201.5,333.7 1201.5,335.9S1176.8,339 1176.8,341.2S1201.5,344.2 1201.5,346.4S1176.8,349.4 1176.8,351.6 M1233.9,309.7C1233.9,311.9 1209.2,312.8 1209.2,315S1233.9,318 1233.9,320.2S1209.2,323.3 1209.2,325.5S1233.9,328.5 1233.9,330.7S1209.2,333.7 1209.2,335.9S1233.9,339 1233.9,341.2S1209.2,344.2 1209.2,346.4S1233.9,349.4 1233.9,351.6 M1241.5,309.7C1241.5,311.9 1266.2,312.8 1266.2,315S1241.5,318 1241.5,320.2S1266.2,323.3 1266.2,325.5S1241.5,328.5 1241.5,330.7S1266.2,333.7 1266.2,335.9S1241.5,339 1241.5,341.2S1266.2,344.2 1266.2,346.4S1241.5,349.4 1241.5,351.6 M1298.6,309.7C1298.6,311.9 1273.9,312.8 1273.9,315S1298.6,318 1298.6,320.2S1273.9,323.3 1273.9,325.5S1298.6,328.5 1298.6,330.7S1273.9,333.7 1273.9,335.9S1298.6,339 1298.6,341.2S1273.9,344.2 1273.9,346.4S1298.6,349.4 1298.6,351.6 M1306.2,309.7C1306.2,311.9 1330.9,312.8 1330.9,315S1306.2,318 1306.2,320.2S1330.9,323.3 1330.9,325.5S1306.2,328.5 1306.2,330.7S1330.9,333.7 1330.9,335.9S1306.2,339 1306.2,341.2S1330.9,344.2 1330.9,346.4S1306.2,349.4 1306.2,351.6 M1363.3,309.7C1363.3,311.9 1338.6,312.8 1338.6,315S1363.3,318 1363.3,320.2S1338.6,323.3 1338.6,325.5S1363.3,328.5 1363.3,330.7S1338.6,333.7 1338.6,335.9S1363.3,339 1363.3,341.2S1338.6,344.2 1338.6,346.4S1363.3,349.4 1363.3,351.6 M1370.9,309.7C1370.9,311.9 1395.6,312.8 1395.6,315S1370.9,318 1370.9,320.2S1395.6,323.3 1395.6,325.5S1370.9,328.5 1370.9,330.7S1395.6,333.7 1395.6,335.9S1370.9,339 1370.9,341.2S1395.6,344.2 1395.6,346.4S1370.9,349.4 1370.9,351.6 M1428,309.7C1428,311.9 1403.3,312.8 1403.3,315S1428,318 1428,320.2S1403.3,323.3 1403.3,325.5S1428,328.5 1428,330.7S1403.3,333.7 1403.3,335.9S1428,339 1428,341.2S1403.3,344.2 1403.3,346.4S1428,349.4 1428,351.6" stroke-opacity="0.47" stroke-width="1.1"/>
<path d="M750.7,311.9C750.7,314.2 775.7,315 775.7,317.3S750.7,320.3 750.7,322.6S775.7,325.7 775.7,327.9S750.7,331 750.7,333.2S775.7,336.3 775.7,338.5S750.7,341.6 750.7,343.8S775.7,346.9 775.7,349.2S750.7,352.3 750.7,354.5 M808.6,311.9C808.6,314.2 783.5,315 783.5,317.3S808.6,320.3 808.6,322.6S783.5,325.7 783.5,327.9S808.6,331 808.6,333.2S783.5,336.3 783.5,338.5S808.6,341.6 808.6,343.8S783.5,346.9 783.5,349.2S808.6,352.3 808.6,354.5 M816.4,311.9C816.4,314.2 841.5,315 841.5,317.3S816.4,320.3 816.4,322.6S841.5,325.7 841.5,327.9S816.4,331 816.4,333.2S841.5,336.3 841.5,338.5S816.4,341.6 816.4,343.8S841.5,346.9 841.5,349.2S816.4,352.3 816.4,354.5 M874.3,311.9C874.3,314.2 849.2,315 849.2,317.3S874.3,320.3 874.3,322.6S849.2,325.7 849.2,327.9S874.3,331 874.3,333.2S849.2,336.3 849.2,338.5S874.3,341.6 874.3,343.8S849.2,346.9 849.2,349.2S874.3,352.3 874.3,354.5 M882.1,311.9C882.1,314.2 907.2,315 907.2,317.3S882.1,320.3 882.1,322.6S907.2,325.7 907.2,327.9S882.1,331 882.1,333.2S907.2,336.3 907.2,338.5S882.1,341.6 882.1,343.8S907.2,346.9 907.2,349.2S882.1,352.3 882.1,354.5 M940.1,311.9C940.1,314.2 915,315 915,317.3S940.1,320.3 940.1,322.6S915,325.7 915,327.9S940.1,331 940.1,333.2S915,336.3 915,338.5S940.1,341.6 940.1,343.8S915,346.9 915,349.2S940.1,352.3 940.1,354.5 M947.8,311.9C947.8,314.2 972.9,315 972.9,317.3S947.8,320.3 947.8,322.6S972.9,325.7 972.9,327.9S947.8,331 947.8,333.2S972.9,336.3 972.9,338.5S947.8,341.6 947.8,343.8S972.9,346.9 972.9,349.2S947.8,352.3 947.8,354.5 M1005.8,311.9C1005.8,314.2 980.7,315 980.7,317.3S1005.8,320.3 1005.8,322.6S980.7,325.7 980.7,327.9S1005.8,331 1005.8,333.2S980.7,336.3 980.7,338.5S1005.8,341.6 1005.8,343.8S980.7,346.9 980.7,349.2S1005.8,352.3 1005.8,354.5 M1013.6,311.9C1013.6,314.2 1038.6,315 1038.6,317.3S1013.6,320.3 1013.6,322.6S1038.6,325.7 1038.6,327.9S1013.6,331 1013.6,333.2S1038.6,336.3 1038.6,338.5S1013.6,341.6 1013.6,343.8S1038.6,346.9 1038.6,349.2S1013.6,352.3 1013.6,354.5 M1071.5,311.9C1071.5,314.2 1046.4,315 1046.4,317.3S1071.5,320.3 1071.5,322.6S1046.4,325.7 1046.4,327.9S1071.5,331 1071.5,333.2S1046.4,336.3 1046.4,338.5S1071.5,341.6 1071.5,343.8S1046.4,346.9 1046.4,349.2S1071.5,352.3 1071.5,354.5 M1079.3,311.9C1079.3,314.2 1104.4,315 1104.4,317.3S1079.3,320.3 1079.3,322.6S1104.4,325.7 1104.4,327.9S1079.3,331 1079.3,333.2S1104.4,336.3 1104.4,338.5S1079.3,341.6 1079.3,343.8S1104.4,346.9 1104.4,349.2S1079.3,352.3 1079.3,354.5 M1137.2,311.9C1137.2,314.2 1112.2,315 1112.2,317.3S1137.2,320.3 1137.2,322.6S1112.2,325.7 1112.2,327.9S1137.2,331 1137.2,333.2S1112.2,336.3 1112.2,338.5S1137.2,341.6 1137.2,343.8S1112.2,346.9 1112.2,349.2S1137.2,352.3 1137.2,354.5 M1145,311.9C1145,314.2 1170.1,315 1170.1,317.3S1145,320.3 1145,322.6S1170.1,325.7 1170.1,327.9S1145,331 1145,333.2S1170.1,336.3 1170.1,338.5S1145,341.6 1145,343.8S1170.1,346.9 1170.1,349.2S1145,352.3 1145,354.5 M1203,311.9C1203,314.2 1177.9,315 1177.9,317.3S1203,320.3 1203,322.6S1177.9,325.7 1177.9,327.9S1203,331 1203,333.2S1177.9,336.3 1177.9,338.5S1203,341.6 1203,343.8S1177.9,346.9 1177.9,349.2S1203,352.3 1203,354.5 M1210.8,311.9C1210.8,314.2 1235.8,315 1235.8,317.3S1210.8,320.3 1210.8,322.6S1235.8,325.7 1235.8,327.9S1210.8,331 1210.8,333.2S1235.8,336.3 1235.8,338.5S1210.8,341.6 1210.8,343.8S1235.8,346.9 1235.8,349.2S1210.8,352.3 1210.8,354.5 M1268.7,311.9C1268.7,314.2 1243.6,315 1243.6,317.3S1268.7,320.3 1268.7,322.6S1243.6,325.7 1243.6,327.9S1268.7,331 1268.7,333.2S1243.6,336.3 1243.6,338.5S1268.7,341.6 1268.7,343.8S1243.6,346.9 1243.6,349.2S1268.7,352.3 1268.7,354.5 M1276.5,311.9C1276.5,314.2 1301.6,315 1301.6,317.3S1276.5,320.3 1276.5,322.6S1301.6,325.7 1301.6,327.9S1276.5,331 1276.5,333.2S1301.6,336.3 1301.6,338.5S1276.5,341.6 1276.5,343.8S1301.6,346.9 1301.6,349.2S1276.5,352.3 1276.5,354.5 M1334.4,311.9C1334.4,314.2 1309.3,315 1309.3,317.3S1334.4,320.3 1334.4,322.6S1309.3,325.7 1309.3,327.9S1334.4,331 1334.4,333.2S1309.3,336.3 1309.3,338.5S1334.4,341.6 1334.4,343.8S1309.3,346.9 1309.3,349.2S1334.4,352.3 1334.4,354.5 M1342.2,311.9C1342.2,314.2 1367.3,315 1367.3,317.3S1342.2,320.3 1342.2,322.6S1367.3,325.7 1367.3,327.9S1342.2,331 1342.2,333.2S1367.3,336.3 1367.3,338.5S1342.2,341.6 1342.2,343.8S1367.3,346.9 1367.3,349.2S1342.2,352.3 1342.2,354.5 M1400.2,311.9C1400.2,314.2 1375.1,315 1375.1,317.3S1400.2,320.3 1400.2,322.6S1375.1,325.7 1375.1,327.9S1400.2,331 1400.2,333.2S1375.1,336.3 1375.1,338.5S1400.2,341.6 1400.2,343.8S1375.1,346.9 1375.1,349.2S1400.2,352.3 1400.2,354.5 M1407.9,311.9C1407.9,314.2 1433,315 1433,317.3S1407.9,320.3 1407.9,322.6S1433,325.7 1433,327.9S1407.9,331 1407.9,333.2S1433,336.3 1433,338.5S1407.9,341.6 1407.9,343.8S1433,346.9 1433,349.2S1407.9,352.3 1407.9,354.5" stroke-opacity="0.50" stroke-width="1.1"/>
<path d="M770.5,314.1C770.5,316.4 745,317.3 745,319.5S770.5,322.7 770.5,324.9S745,328.1 745,330.3S770.5,333.5 770.5,335.7S745,338.9 745,341.1S770.5,344.3 770.5,346.5S745,349.7 745,351.9S770.5,355.1 770.5,357.3 M778.4,314.1C778.4,316.4 803.9,317.3 803.9,319.5S778.4,322.7 778.4,324.9S803.9,328.1 803.9,330.3S778.4,333.5 778.4,335.7S803.9,338.9 803.9,341.1S778.4,344.3 778.4,346.5S803.9,349.7 803.9,351.9S778.4,355.1 778.4,357.3 M837.3,314.1C837.3,316.4 811.8,317.3 811.8,319.5S837.3,322.7 837.3,324.9S811.8,328.1 811.8,330.3S837.3,333.5 837.3,335.7S811.8,338.9 811.8,341.1S837.3,344.3 837.3,346.5S811.8,349.7 811.8,351.9S837.3,355.1 837.3,357.3 M845.2,314.1C845.2,316.4 870.6,317.3 870.6,319.5S845.2,322.7 845.2,324.9S870.6,328.1 870.6,330.3S845.2,333.5 845.2,335.7S870.6,338.9 870.6,341.1S845.2,344.3 845.2,346.5S870.6,349.7 870.6,351.9S845.2,355.1 845.2,357.3 M904,314.1C904,316.4 878.5,317.3 878.5,319.5S904,322.7 904,324.9S878.5,328.1 878.5,330.3S904,333.5 904,335.7S878.5,338.9 878.5,341.1S904,344.3 904,346.5S878.5,349.7 878.5,351.9S904,355.1 904,357.3 M911.9,314.1C911.9,316.4 937.4,317.3 937.4,319.5S911.9,322.7 911.9,324.9S937.4,328.1 937.4,330.3S911.9,333.5 911.9,335.7S937.4,338.9 937.4,341.1S911.9,344.3 911.9,346.5S937.4,349.7 937.4,351.9S911.9,355.1 911.9,357.3 M970.8,314.1C970.8,316.4 945.3,317.3 945.3,319.5S970.8,322.7 970.8,324.9S945.3,328.1 945.3,330.3S970.8,333.5 970.8,335.7S945.3,338.9 945.3,341.1S970.8,344.3 970.8,346.5S945.3,349.7 945.3,351.9S970.8,355.1 970.8,357.3 M978.7,314.1C978.7,316.4 1004.2,317.3 1004.2,319.5S978.7,322.7 978.7,324.9S1004.2,328.1 1004.2,330.3S978.7,333.5 978.7,335.7S1004.2,338.9 1004.2,341.1S978.7,344.3 978.7,346.5S1004.2,349.7 1004.2,351.9S978.7,355.1 978.7,357.3 M1037.5,314.1C1037.5,316.4 1012.1,317.3 1012.1,319.5S1037.5,322.7 1037.5,324.9S1012.1,328.1 1012.1,330.3S1037.5,333.5 1037.5,335.7S1012.1,338.9 1012.1,341.1S1037.5,344.3 1037.5,346.5S1012.1,349.7 1012.1,351.9S1037.5,355.1 1037.5,357.3 M1045.4,314.1C1045.4,316.4 1070.9,317.3 1070.9,319.5S1045.4,322.7 1045.4,324.9S1070.9,328.1 1070.9,330.3S1045.4,333.5 1045.4,335.7S1070.9,338.9 1070.9,341.1S1045.4,344.3 1045.4,346.5S1070.9,349.7 1070.9,351.9S1045.4,355.1 1045.4,357.3 M1104.3,314.1C1104.3,316.4 1078.8,317.3 1078.8,319.5S1104.3,322.7 1104.3,324.9S1078.8,328.1 1078.8,330.3S1104.3,333.5 1104.3,335.7S1078.8,338.9 1078.8,341.1S1104.3,344.3 1104.3,346.5S1078.8,349.7 1078.8,351.9S1104.3,355.1 1104.3,357.3 M1112.2,314.1C1112.2,316.4 1137.7,317.3 1137.7,319.5S1112.2,322.7 1112.2,324.9S1137.7,328.1 1137.7,330.3S1112.2,333.5 1112.2,335.7S1137.7,338.9 1137.7,341.1S1112.2,344.3 1112.2,346.5S1137.7,349.7 1137.7,351.9S1112.2,355.1 1112.2,357.3 M1171,314.1C1171,316.4 1145.6,317.3 1145.6,319.5S1171,322.7 1171,324.9S1145.6,328.1 1145.6,330.3S1171,333.5 1171,335.7S1145.6,338.9 1145.6,341.1S1171,344.3 1171,346.5S1145.6,349.7 1145.6,351.9S1171,355.1 1171,357.3 M1179,314.1C1179,316.4 1204.4,317.3 1204.4,319.5S1179,322.7 1179,324.9S1204.4,328.1 1204.4,330.3S1179,333.5 1179,335.7S1204.4,338.9 1204.4,341.1S1179,344.3 1179,346.5S1204.4,349.7 1204.4,351.9S1179,355.1 1179,357.3 M1237.8,314.1C1237.8,316.4 1212.3,317.3 1212.3,319.5S1237.8,322.7 1237.8,324.9S1212.3,328.1 1212.3,330.3S1237.8,333.5 1237.8,335.7S1212.3,338.9 1212.3,341.1S1237.8,344.3 1237.8,346.5S1212.3,349.7 1212.3,351.9S1237.8,355.1 1237.8,357.3 M1245.7,314.1C1245.7,316.4 1271.2,317.3 1271.2,319.5S1245.7,322.7 1245.7,324.9S1271.2,328.1 1271.2,330.3S1245.7,333.5 1245.7,335.7S1271.2,338.9 1271.2,341.1S1245.7,344.3 1245.7,346.5S1271.2,349.7 1271.2,351.9S1245.7,355.1 1245.7,357.3 M1304.6,314.1C1304.6,316.4 1279.1,317.3 1279.1,319.5S1304.6,322.7 1304.6,324.9S1279.1,328.1 1279.1,330.3S1304.6,333.5 1304.6,335.7S1279.1,338.9 1279.1,341.1S1304.6,344.3 1304.6,346.5S1279.1,349.7 1279.1,351.9S1304.6,355.1 1304.6,357.3 M1312.5,314.1C1312.5,316.4 1337.9,317.3 1337.9,319.5S1312.5,322.7 1312.5,324.9S1337.9,328.1 1337.9,330.3S1312.5,333.5 1312.5,335.7S1337.9,338.9 1337.9,341.1S1312.5,344.3 1312.5,346.5S1337.9,349.7 1337.9,351.9S1312.5,355.1 1312.5,357.3 M1371.3,314.1C1371.3,316.4 1345.8,317.3 1345.8,319.5S1371.3,322.7 1371.3,324.9S1345.8,328.1 1345.8,330.3S1371.3,333.5 1371.3,335.7S1345.8,338.9 1345.8,341.1S1371.3,344.3 1371.3,346.5S1345.8,349.7 1345.8,351.9S1371.3,355.1 1371.3,357.3 M1379.2,314.1C1379.2,316.4 1404.7,317.3 1404.7,319.5S1379.2,322.7 1379.2,324.9S1404.7,328.1 1404.7,330.3S1379.2,333.5 1379.2,335.7S1404.7,338.9 1404.7,341.1S1379.2,344.3 1379.2,346.5S1404.7,349.7 1404.7,351.9S1379.2,355.1 1379.2,357.3 M1438.1,314.1C1438.1,316.4 1412.6,317.3 1412.6,319.5S1438.1,322.7 1438.1,324.9S1412.6,328.1 1412.6,330.3S1438.1,333.5 1438.1,335.7S1412.6,338.9 1412.6,341.1S1438.1,344.3 1438.1,346.5S1412.6,349.7 1412.6,351.9S1438.1,355.1 1438.1,357.3" stroke-opacity="0.53" stroke-width="1.2"/>
<path d="M739.4,316.3C739.4,318.6 765.3,319.5 765.3,321.8S739.4,325 739.4,327.3S765.3,330.5 765.3,332.8S739.4,335.9 739.4,338.2S765.3,341.4 765.3,343.7S739.4,346.9 739.4,349.2S765.3,352.4 765.3,354.7S739.4,357.9 739.4,360.2 M799.2,316.3C799.2,318.6 773.3,319.5 773.3,321.8S799.2,325 799.2,327.3S773.3,330.5 773.3,332.8S799.2,335.9 799.2,338.2S773.3,341.4 773.3,343.7S799.2,346.9 799.2,349.2S773.3,352.4 773.3,354.7S799.2,357.9 799.2,360.2 M807.2,316.3C807.2,318.6 833.1,319.5 833.1,321.8S807.2,325 807.2,327.3S833.1,330.5 833.1,332.8S807.2,335.9 807.2,338.2S833.1,341.4 833.1,343.7S807.2,346.9 807.2,349.2S833.1,352.4 833.1,354.7S807.2,357.9 807.2,360.2 M867,316.3C867,318.6 841.1,319.5 841.1,321.8S867,325 867,327.3S841.1,330.5 841.1,332.8S867,335.9 867,338.2S841.1,341.4 841.1,343.7S867,346.9 867,349.2S841.1,352.4 841.1,354.7S867,357.9 867,360.2 M875,316.3C875,318.6 900.9,319.5 900.9,321.8S875,325 875,327.3S900.9,330.5 900.9,332.8S875,335.9 875,338.2S900.9,341.4 900.9,343.7S875,346.9 875,349.2S900.9,352.4 900.9,354.7S875,357.9 875,360.2 M934.7,316.3C934.7,318.6 908.9,319.5 908.9,321.8S934.7,325 934.7,327.3S908.9,330.5 908.9,332.8S934.7,335.9 934.7,338.2S908.9,341.4 908.9,343.7S934.7,346.9 934.7,349.2S908.9,352.4 908.9,354.7S934.7,357.9 934.7,360.2 M942.8,316.3C942.8,318.6 968.6,319.5 968.6,321.8S942.8,325 942.8,327.3S968.6,330.5 968.6,332.8S942.8,335.9 942.8,338.2S968.6,341.4 968.6,343.7S942.8,346.9 942.8,349.2S968.6,352.4 968.6,354.7S942.8,357.9 942.8,360.2 M1002.5,316.3C1002.5,318.6 976.7,319.5 976.7,321.8S1002.5,325 1002.5,327.3S976.7,330.5 976.7,332.8S1002.5,335.9 1002.5,338.2S976.7,341.4 976.7,343.7S1002.5,346.9 1002.5,349.2S976.7,352.4 976.7,354.7S1002.5,357.9 1002.5,360.2 M1010.6,316.3C1010.6,318.6 1036.4,319.5 1036.4,321.8S1010.6,325 1010.6,327.3S1036.4,330.5 1036.4,332.8S1010.6,335.9 1010.6,338.2S1036.4,341.4 1036.4,343.7S1010.6,346.9 1010.6,349.2S1036.4,352.4 1036.4,354.7S1010.6,357.9 1010.6,360.2 M1070.3,316.3C1070.3,318.6 1044.4,319.5 1044.4,321.8S1070.3,325 1070.3,327.3S1044.4,330.5 1044.4,332.8S1070.3,335.9 1070.3,338.2S1044.4,341.4 1044.4,343.7S1070.3,346.9 1070.3,349.2S1044.4,352.4 1044.4,354.7S1070.3,357.9 1070.3,360.2 M1078.3,316.3C1078.3,318.6 1104.2,319.5 1104.2,321.8S1078.3,325 1078.3,327.3S1104.2,330.5 1104.2,332.8S1078.3,335.9 1078.3,338.2S1104.2,341.4 1104.2,343.7S1078.3,346.9 1078.3,349.2S1104.2,352.4 1104.2,354.7S1078.3,357.9 1078.3,360.2 M1138.1,316.3C1138.1,318.6 1112.2,319.5 1112.2,321.8S1138.1,325 1138.1,327.3S1112.2,330.5 1112.2,332.8S1138.1,335.9 1138.1,338.2S1112.2,341.4 1112.2,343.7S1138.1,346.9 1138.1,349.2S1112.2,352.4 1112.2,354.7S1138.1,357.9 1138.1,360.2 M1146.1,316.3C1146.1,318.6 1172,319.5 1172,321.8S1146.1,325 1146.1,327.3S1172,330.5 1172,332.8S1146.1,335.9 1146.1,338.2S1172,341.4 1172,343.7S1146.1,346.9 1146.1,349.2S1172,352.4 1172,354.7S1146.1,357.9 1146.1,360.2 M1205.9,316.3C1205.9,318.6 1180,319.5 1180,321.8S1205.9,325 1205.9,327.3S1180,330.5 1180,332.8S1205.9,335.9 1205.9,338.2S1180,341.4 1180,343.7S1205.9,346.9 1205.9,349.2S1180,352.4 1180,354.7S1205.9,357.9 1205.9,360.2 M1213.9,316.3C1213.9,318.6 1239.8,319.5 1239.8,321.8S1213.9,325 1213.9,327.3S1239.8,330.5 1239.8,332.8S1213.9,335.9 1213.9,338.2S1239.8,341.4 1239.8,343.7S1213.9,346.9 1213.9,349.2S1239.8,352.4 1239.8,354.7S1213.9,357.9 1213.9,360.2 M1273.7,316.3C1273.7,318.6 1247.8,319.5 1247.8,321.8S1273.7,325 1273.7,327.3S1247.8,330.5 1247.8,332.8S1273.7,335.9 1273.7,338.2S1247.8,341.4 1247.8,343.7S1273.7,346.9 1273.7,349.2S1247.8,352.4 1247.8,354.7S1273.7,357.9 1273.7,360.2 M1281.7,316.3C1281.7,318.6 1307.6,319.5 1307.6,321.8S1281.7,325 1281.7,327.3S1307.6,330.5 1307.6,332.8S1281.7,335.9 1281.7,338.2S1307.6,341.4 1307.6,343.7S1281.7,346.9 1281.7,349.2S1307.6,352.4 1307.6,354.7S1281.7,357.9 1281.7,360.2 M1341.4,316.3C1341.4,318.6 1315.6,319.5 1315.6,321.8S1341.4,325 1341.4,327.3S1315.6,330.5 1315.6,332.8S1341.4,335.9 1341.4,338.2S1315.6,341.4 1315.6,343.7S1341.4,346.9 1341.4,349.2S1315.6,352.4 1315.6,354.7S1341.4,357.9 1341.4,360.2 M1349.5,316.3C1349.5,318.6 1375.3,319.5 1375.3,321.8S1349.5,325 1349.5,327.3S1375.3,330.5 1375.3,332.8S1349.5,335.9 1349.5,338.2S1375.3,341.4 1375.3,343.7S1349.5,346.9 1349.5,349.2S1375.3,352.4 1375.3,354.7S1349.5,357.9 1349.5,360.2 M1409.2,316.3C1409.2,318.6 1383.4,319.5 1383.4,321.8S1409.2,325 1409.2,327.3S1383.4,330.5 1383.4,332.8S1409.2,335.9 1409.2,338.2S1383.4,341.4 1383.4,343.7S1409.2,346.9 1409.2,349.2S1383.4,352.4 1383.4,354.7S1409.2,357.9 1409.2,360.2 M1417.3,316.3C1417.3,318.6 1443.1,319.5 1443.1,321.8S1417.3,325 1417.3,327.3S1443.1,330.5 1443.1,332.8S1417.3,335.9 1417.3,338.2S1443.1,341.4 1443.1,343.7S1417.3,346.9 1417.3,349.2S1443.1,352.4 1443.1,354.7S1417.3,357.9 1417.3,360.2" stroke-opacity="0.57" stroke-width="1.2"/>
<path d="M760.1,318.5C760.1,320.8 733.8,321.7 733.8,324.1S760.1,327.3 760.1,329.6S733.8,332.9 733.8,335.2S760.1,338.4 760.1,340.8S733.8,344 733.8,346.3S760.1,349.6 760.1,351.9S733.8,355.1 733.8,357.5S760.1,360.7 760.1,363 M768.2,318.5C768.2,320.8 794.5,321.7 794.5,324.1S768.2,327.3 768.2,329.6S794.5,332.9 794.5,335.2S768.2,338.4 768.2,340.8S794.5,344 794.5,346.3S768.2,349.6 768.2,351.9S794.5,355.1 794.5,357.5S768.2,360.7 768.2,363 M828.9,318.5C828.9,320.8 802.6,321.7 802.6,324.1S828.9,327.3 828.9,329.6S802.6,332.9 802.6,335.2S828.9,338.4 828.9,340.8S802.6,344 802.6,346.3S828.9,349.6 828.9,351.9S802.6,355.1 802.6,357.5S828.9,360.7 828.9,363 M837,318.5C837,320.8 863.3,321.7 863.3,324.1S837,327.3 837,329.6S863.3,332.9 863.3,335.2S837,338.4 837,340.8S863.3,344 863.3,346.3S837,349.6 837,351.9S863.3,355.1 863.3,357.5S837,360.7 837,363 M897.7,318.5C897.7,320.8 871.4,321.7 871.4,324.1S897.7,327.3 897.7,329.6S871.4,332.9 871.4,335.2S897.7,338.4 897.7,340.8S871.4,344 871.4,346.3S897.7,349.6 897.7,351.9S871.4,355.1 871.4,357.5S897.7,360.7 897.7,363 M905.8,318.5C905.8,320.8 932.1,321.7 932.1,324.1S905.8,327.3 905.8,329.6S932.1,332.9 932.1,335.2S905.8,338.4 905.8,340.8S932.1,344 932.1,346.3S905.8,349.6 905.8,351.9S932.1,355.1 932.1,357.5S905.8,360.7 905.8,363 M966.5,318.5C966.5,320.8 940.2,321.7 940.2,324.1S966.5,327.3 966.5,329.6S940.2,332.9 940.2,335.2S966.5,338.4 966.5,340.8S940.2,344 940.2,346.3S966.5,349.6 966.5,351.9S940.2,355.1 940.2,357.5S966.5,360.7 966.5,363 M974.6,318.5C974.6,320.8 1000.9,321.7 1000.9,324.1S974.6,327.3 974.6,329.6S1000.9,332.9 1000.9,335.2S974.6,338.4 974.6,340.8S1000.9,344 1000.9,346.3S974.6,349.6 974.6,351.9S1000.9,355.1 1000.9,357.5S974.6,360.7 974.6,363 M1035.3,318.5C1035.3,320.8 1009,321.7 1009,324.1S1035.3,327.3 1035.3,329.6S1009,332.9 1009,335.2S1035.3,338.4 1035.3,340.8S1009,344 1009,346.3S1035.3,349.6 1035.3,351.9S1009,355.1 1009,357.5S1035.3,360.7 1035.3,363 M1043.5,318.5C1043.5,320.8 1069.7,321.7 1069.7,324.1S1043.5,327.3 1043.5,329.6S1069.7,332.9 1069.7,335.2S1043.5,338.4 1043.5,340.8S1069.7,344 1069.7,346.3S1043.5,349.6 1043.5,351.9S1069.7,355.1 1069.7,357.5S1043.5,360.7 1043.5,363 M1104.1,318.5C1104.1,320.8 1077.9,321.7 1077.9,324.1S1104.1,327.3 1104.1,329.6S1077.9,332.9 1077.9,335.2S1104.1,338.4 1104.1,340.8S1077.9,344 1077.9,346.3S1104.1,349.6 1104.1,351.9S1077.9,355.1 1077.9,357.5S1104.1,360.7 1104.1,363 M1112.3,318.5C1112.3,320.8 1138.5,321.7 1138.5,324.1S1112.3,327.3 1112.3,329.6S1138.5,332.9 1138.5,335.2S1112.3,338.4 1112.3,340.8S1138.5,344 1138.5,346.3S1112.3,349.6 1112.3,351.9S1138.5,355.1 1138.5,357.5S1112.3,360.7 1112.3,363 M1172.9,318.5C1172.9,320.8 1146.7,321.7 1146.7,324.1S1172.9,327.3 1172.9,329.6S1146.7,332.9 1146.7,335.2S1172.9,338.4 1172.9,340.8S1146.7,344 1146.7,346.3S1172.9,349.6 1172.9,351.9S1146.7,355.1 1146.7,357.5S1172.9,360.7 1172.9,363 M1181.1,318.5C1181.1,320.8 1207.3,321.7 1207.3,324.1S1181.1,327.3 1181.1,329.6S1207.3,332.9 1207.3,335.2S1181.1,338.4 1181.1,340.8S1207.3,344 1207.3,346.3S1181.1,349.6 1181.1,351.9S1207.3,355.1 1207.3,357.5S1181.1,360.7 1181.1,363 M1241.7,318.5C1241.7,320.8 1215.5,321.7 1215.5,324.1S1241.7,327.3 1241.7,329.6S1215.5,332.9 1215.5,335.2S1241.7,338.4 1241.7,340.8S1215.5,344 1215.5,346.3S1241.7,349.6 1241.7,351.9S1215.5,355.1 1215.5,357.5S1241.7,360.7 1241.7,363 M1249.9,318.5C1249.9,320.8 1276.1,321.7 1276.1,324.1S1249.9,327.3 1249.9,329.6S1276.1,332.9 1276.1,335.2S1249.9,338.4 1249.9,340.8S1276.1,344 1276.1,346.3S1249.9,349.6 1249.9,351.9S1276.1,355.1 1276.1,357.5S1249.9,360.7 1249.9,363 M1310.5,318.5C1310.5,320.8 1284.3,321.7 1284.3,324.1S1310.5,327.3 1310.5,329.6S1284.3,332.9 1284.3,335.2S1310.5,338.4 1310.5,340.8S1284.3,344 1284.3,346.3S1310.5,349.6 1310.5,351.9S1284.3,355.1 1284.3,357.5S1310.5,360.7 1310.5,363 M1318.7,318.5C1318.7,320.8 1345,321.7 1345,324.1S1318.7,327.3 1318.7,329.6S1345,332.9 1345,335.2S1318.7,338.4 1318.7,340.8S1345,344 1345,346.3S1318.7,349.6 1318.7,351.9S1345,355.1 1345,357.5S1318.7,360.7 1318.7,363 M1379.4,318.5C1379.4,320.8 1353.1,321.7 1353.1,324.1S1379.4,327.3 1379.4,329.6S1353.1,332.9 1353.1,335.2S1379.4,338.4 1379.4,340.8S1353.1,344 1353.1,346.3S1379.4,349.6 1379.4,351.9S1353.1,355.1 1353.1,357.5S1379.4,360.7 1379.4,363 M1387.5,318.5C1387.5,320.8 1413.8,321.7 1413.8,324.1S1387.5,327.3 1387.5,329.6S1413.8,332.9 1413.8,335.2S1387.5,338.4 1387.5,340.8S1413.8,344 1413.8,346.3S1387.5,349.6 1387.5,351.9S1413.8,355.1 1413.8,357.5S1387.5,360.7 1387.5,363 M1448.2,318.5C1448.2,320.8 1421.9,321.7 1421.9,324.1S1448.2,327.3 1448.2,329.6S1421.9,332.9 1421.9,335.2S1448.2,338.4 1448.2,340.8S1421.9,344 1421.9,346.3S1448.2,349.6 1448.2,351.9S1421.9,355.1 1421.9,357.5S1448.2,360.7 1448.2,363" stroke-opacity="0.61" stroke-width="1.2"/>
<path d="M728.2,320.7C728.2,323.1 754.8,324 754.8,326.3S728.2,329.6 728.2,332S754.8,335.3 754.8,337.6S728.2,340.9 728.2,343.3S754.8,346.6 754.8,348.9S728.2,352.2 728.2,354.6S754.8,357.9 754.8,360.2S728.2,363.5 728.2,365.9 M789.8,320.7C789.8,323.1 763.1,324 763.1,326.3S789.8,329.6 789.8,332S763.1,335.3 763.1,337.6S789.8,340.9 789.8,343.3S763.1,346.6 763.1,348.9S789.8,352.2 789.8,354.6S763.1,357.9 763.1,360.2S789.8,363.5 789.8,365.9 M798,320.7C798,323.1 824.7,324 824.7,326.3S798,329.6 798,332S824.7,335.3 824.7,337.6S798,340.9 798,343.3S824.7,346.6 824.7,348.9S798,352.2 798,354.6S824.7,357.9 824.7,360.2S798,363.5 798,365.9 M859.6,320.7C859.6,323.1 832.9,324 832.9,326.3S859.6,329.6 859.6,332S832.9,335.3 832.9,337.6S859.6,340.9 859.6,343.3S832.9,346.6 832.9,348.9S859.6,352.2 859.6,354.6S832.9,357.9 832.9,360.2S859.6,363.5 859.6,365.9 M867.9,320.7C867.9,323.1 894.5,324 894.5,326.3S867.9,329.6 867.9,332S894.5,335.3 894.5,337.6S867.9,340.9 867.9,343.3S894.5,346.6 894.5,348.9S867.9,352.2 867.9,354.6S894.5,357.9 894.5,360.2S867.9,363.5 867.9,365.9 M929.4,320.7C929.4,323.1 902.8,324 902.8,326.3S929.4,329.6 929.4,332S902.8,335.3 902.8,337.6S929.4,340.9 929.4,343.3S902.8,346.6 902.8,348.9S929.4,352.2 929.4,354.6S902.8,357.9 902.8,360.2S929.4,363.5 929.4,365.9 M937.7,320.7C937.7,323.1 964.4,324 964.4,326.3S937.7,329.6 937.7,332S964.4,335.3 964.4,337.6S937.7,340.9 937.7,343.3S964.4,346.6 964.4,348.9S937.7,352.2 937.7,354.6S964.4,357.9 964.4,360.2S937.7,363.5 937.7,365.9 M999.3,320.7C999.3,323.1 972.6,324 972.6,326.3S999.3,329.6 999.3,332S972.6,335.3 972.6,337.6S999.3,340.9 999.3,343.3S972.6,346.6 972.6,348.9S999.3,352.2 999.3,354.6S972.6,357.9 972.6,360.2S999.3,363.5 999.3,365.9 M1007.5,320.7C1007.5,323.1 1034.2,324 1034.2,326.3S1007.5,329.6 1007.5,332S1034.2,335.3 1034.2,337.6S1007.5,340.9 1007.5,343.3S1034.2,346.6 1034.2,348.9S1007.5,352.2 1007.5,354.6S1034.2,357.9 1034.2,360.2S1007.5,363.5 1007.5,365.9 M1069.1,320.7C1069.1,323.1 1042.5,324 1042.5,326.3S1069.1,329.6 1069.1,332S1042.5,335.3 1042.5,337.6S1069.1,340.9 1069.1,343.3S1042.5,346.6 1042.5,348.9S1069.1,352.2 1069.1,354.6S1042.5,357.9 1042.5,360.2S1069.1,363.5 1069.1,365.9 M1077.4,320.7C1077.4,323.1 1104,324 1104,326.3S1077.4,329.6 1077.4,332S1104,335.3 1104,337.6S1077.4,340.9 1077.4,343.3S1104,346.6 1104,348.9S1077.4,352.2 1077.4,354.6S1104,357.9 1104,360.2S1077.4,363.5 1077.4,365.9 M1138.9,320.7C1138.9,323.1 1112.3,324 1112.3,326.3S1138.9,329.6 1138.9,332S1112.3,335.3 1112.3,337.6S1138.9,340.9 1138.9,343.3S1112.3,346.6 1112.3,348.9S1138.9,352.2 1138.9,354.6S1112.3,357.9 1112.3,360.2S1138.9,363.5 1138.9,365.9 M1147.2,320.7C1147.2,323.1 1173.9,324 1173.9,326.3S1147.2,329.6 1147.2,332S1173.9,335.3 1173.9,337.6S1147.2,340.9 1147.2,343.3S1173.9,346.6 1173.9,348.9S1147.2,352.2 1147.2,354.6S1173.9,357.9 1173.9,360.2S1147.2,363.5 1147.2,365.9 M1208.8,320.7C1208.8,323.1 1182.1,324 1182.1,326.3S1208.8,329.6 1208.8,332S1182.1,335.3 1182.1,337.6S1208.8,340.9 1208.8,343.3S1182.1,346.6 1182.1,348.9S1208.8,352.2 1208.8,354.6S1182.1,357.9 1182.1,360.2S1208.8,363.5 1208.8,365.9 M1217.1,320.7C1217.1,323.1 1243.7,324 1243.7,326.3S1217.1,329.6 1217.1,332S1243.7,335.3 1243.7,337.6S1217.1,340.9 1217.1,343.3S1243.7,346.6 1243.7,348.9S1217.1,352.2 1217.1,354.6S1243.7,357.9 1243.7,360.2S1217.1,363.5 1217.1,365.9 M1278.6,320.7C1278.6,323.1 1252,324 1252,326.3S1278.6,329.6 1278.6,332S1252,335.3 1252,337.6S1278.6,340.9 1278.6,343.3S1252,346.6 1252,348.9S1278.6,352.2 1278.6,354.6S1252,357.9 1252,360.2S1278.6,363.5 1278.6,365.9 M1286.9,320.7C1286.9,323.1 1313.5,324 1313.5,326.3S1286.9,329.6 1286.9,332S1313.5,335.3 1313.5,337.6S1286.9,340.9 1286.9,343.3S1313.5,346.6 1313.5,348.9S1286.9,352.2 1286.9,354.6S1313.5,357.9 1313.5,360.2S1286.9,363.5 1286.9,365.9 M1348.5,320.7C1348.5,323.1 1321.8,324 1321.8,326.3S1348.5,329.6 1348.5,332S1321.8,335.3 1321.8,337.6S1348.5,340.9 1348.5,343.3S1321.8,346.6 1321.8,348.9S1348.5,352.2 1348.5,354.6S1321.8,357.9 1321.8,360.2S1348.5,363.5 1348.5,365.9 M1356.7,320.7C1356.7,323.1 1383.4,324 1383.4,326.3S1356.7,329.6 1356.7,332S1383.4,335.3 1383.4,337.6S1356.7,340.9 1356.7,343.3S1383.4,346.6 1383.4,348.9S1356.7,352.2 1356.7,354.6S1383.4,357.9 1383.4,360.2S1356.7,363.5 1356.7,365.9 M1418.3,320.7C1418.3,323.1 1391.6,324 1391.6,326.3S1418.3,329.6 1418.3,332S1391.6,335.3 1391.6,337.6S1418.3,340.9 1418.3,343.3S1391.6,346.6 1391.6,348.9S1418.3,352.2 1418.3,354.6S1391.6,357.9 1391.6,360.2S1418.3,363.5 1418.3,365.9 M1426.6,320.7C1426.6,323.1 1453.2,324 1453.2,326.3S1426.6,329.6 1426.6,332S1453.2,335.3 1453.2,337.6S1426.6,340.9 1426.6,343.3S1453.2,346.6 1453.2,348.9S1426.6,352.2 1426.6,354.6S1453.2,357.9 1453.2,360.2S1426.6,363.5 1426.6,365.9" stroke-opacity="0.65" stroke-width="1.3"/>
<path d="M749.6,322.9C749.6,325.3 722.6,326.2 722.6,328.6S749.6,331.9 749.6,334.3S722.6,337.7 722.6,340.1S749.6,343.4 749.6,345.8S722.6,349.1 722.6,351.5S749.6,354.9 749.6,357.3S722.6,360.6 722.6,363S749.6,366.3 749.6,368.7 M758,322.9C758,325.3 785,326.2 785,328.6S758,331.9 758,334.3S785,337.7 785,340.1S758,343.4 758,345.8S785,349.1 785,351.5S758,354.9 758,357.3S785,360.6 785,363S758,366.3 758,368.7 M820.5,322.9C820.5,325.3 793.4,326.2 793.4,328.6S820.5,331.9 820.5,334.3S793.4,337.7 793.4,340.1S820.5,343.4 820.5,345.8S793.4,349.1 793.4,351.5S820.5,354.9 820.5,357.3S793.4,360.6 793.4,363S820.5,366.3 820.5,368.7 M828.9,322.9C828.9,325.3 855.9,326.2 855.9,328.6S828.9,331.9 828.9,334.3S855.9,337.7 855.9,340.1S828.9,343.4 828.9,345.8S855.9,349.1 855.9,351.5S828.9,354.9 828.9,357.3S855.9,360.6 855.9,363S828.9,366.3 828.9,368.7 M891.3,322.9C891.3,325.3 864.3,326.2 864.3,328.6S891.3,331.9 891.3,334.3S864.3,337.7 864.3,340.1S891.3,343.4 891.3,345.8S864.3,349.1 864.3,351.5S891.3,354.9 891.3,357.3S864.3,360.6 864.3,363S891.3,366.3 891.3,368.7 M899.7,322.9C899.7,325.3 926.8,326.2 926.8,328.6S899.7,331.9 899.7,334.3S926.8,337.7 926.8,340.1S899.7,343.4 899.7,345.8S926.8,349.1 926.8,351.5S899.7,354.9 899.7,357.3S926.8,360.6 926.8,363S899.7,366.3 899.7,368.7 M962.2,322.9C962.2,325.3 935.2,326.2 935.2,328.6S962.2,331.9 962.2,334.3S935.2,337.7 935.2,340.1S962.2,343.4 962.2,345.8S935.2,349.1 935.2,351.5S962.2,354.9 962.2,357.3S935.2,360.6 935.2,363S962.2,366.3 962.2,368.7 M970.6,322.9C970.6,325.3 997.6,326.2 997.6,328.6S970.6,331.9 970.6,334.3S997.6,337.7 997.6,340.1S970.6,343.4 970.6,345.8S997.6,349.1 997.6,351.5S970.6,354.9 970.6,357.3S997.6,360.6 997.6,363S970.6,366.3 970.6,368.7 M1033.1,322.9C1033.1,325.3 1006,326.2 1006,328.6S1033.1,331.9 1033.1,334.3S1006,337.7 1006,340.1S1033.1,343.4 1033.1,345.8S1006,349.1 1006,351.5S1033.1,354.9 1033.1,357.3S1006,360.6 1006,363S1033.1,366.3 1033.1,368.7 M1041.5,322.9C1041.5,325.3 1068.5,326.2 1068.5,328.6S1041.5,331.9 1041.5,334.3S1068.5,337.7 1068.5,340.1S1041.5,343.4 1041.5,345.8S1068.5,349.1 1068.5,351.5S1041.5,354.9 1041.5,357.3S1068.5,360.6 1068.5,363S1041.5,366.3 1041.5,368.7 M1103.9,322.9C1103.9,325.3 1076.9,326.2 1076.9,328.6S1103.9,331.9 1103.9,334.3S1076.9,337.7 1076.9,340.1S1103.9,343.4 1103.9,345.8S1076.9,349.1 1076.9,351.5S1103.9,354.9 1103.9,357.3S1076.9,360.6 1076.9,363S1103.9,366.3 1103.9,368.7 M1112.3,322.9C1112.3,325.3 1139.4,326.2 1139.4,328.6S1112.3,331.9 1112.3,334.3S1139.4,337.7 1139.4,340.1S1112.3,343.4 1112.3,345.8S1139.4,349.1 1139.4,351.5S1112.3,354.9 1112.3,357.3S1139.4,360.6 1139.4,363S1112.3,366.3 1112.3,368.7 M1174.8,322.9C1174.8,325.3 1147.8,326.2 1147.8,328.6S1174.8,331.9 1174.8,334.3S1147.8,337.7 1147.8,340.1S1174.8,343.4 1174.8,345.8S1147.8,349.1 1147.8,351.5S1174.8,354.9 1174.8,357.3S1147.8,360.6 1147.8,363S1174.8,366.3 1174.8,368.7 M1183.2,322.9C1183.2,325.3 1210.2,326.2 1210.2,328.6S1183.2,331.9 1183.2,334.3S1210.2,337.7 1210.2,340.1S1183.2,343.4 1183.2,345.8S1210.2,349.1 1210.2,351.5S1183.2,354.9 1183.2,357.3S1210.2,360.6 1210.2,363S1183.2,366.3 1183.2,368.7 M1245.7,322.9C1245.7,325.3 1218.6,326.2 1218.6,328.6S1245.7,331.9 1245.7,334.3S1218.6,337.7 1218.6,340.1S1245.7,343.4 1245.7,345.8S1218.6,349.1 1218.6,351.5S1245.7,354.9 1245.7,357.3S1218.6,360.6 1218.6,363S1245.7,366.3 1245.7,368.7 M1254.1,322.9C1254.1,325.3 1281.1,326.2 1281.1,328.6S1254.1,331.9 1254.1,334.3S1281.1,337.7 1281.1,340.1S1254.1,343.4 1254.1,345.8S1281.1,349.1 1281.1,351.5S1254.1,354.9 1254.1,357.3S1281.1,360.6 1281.1,363S1254.1,366.3 1254.1,368.7 M1316.5,322.9C1316.5,325.3 1289.5,326.2 1289.5,328.6S1316.5,331.9 1316.5,334.3S1289.5,337.7 1289.5,340.1S1316.5,343.4 1316.5,345.8S1289.5,349.1 1289.5,351.5S1316.5,354.9 1316.5,357.3S1289.5,360.6 1289.5,363S1316.5,366.3 1316.5,368.7 M1324.9,322.9C1324.9,325.3 1352,326.2 1352,328.6S1324.9,331.9 1324.9,334.3S1352,337.7 1352,340.1S1324.9,343.4 1324.9,345.8S1352,349.1 1352,351.5S1324.9,354.9 1324.9,357.3S1352,360.6 1352,363S1324.9,366.3 1324.9,368.7 M1387.4,322.9C1387.4,325.3 1360.4,326.2 1360.4,328.6S1387.4,331.9 1387.4,334.3S1360.4,337.7 1360.4,340.1S1387.4,343.4 1387.4,345.8S1360.4,349.1 1360.4,351.5S1387.4,354.9 1387.4,357.3S1360.4,360.6 1360.4,363S1387.4,366.3 1387.4,368.7 M1395.8,322.9C1395.8,325.3 1422.8,326.2 1422.8,328.6S1395.8,331.9 1395.8,334.3S1422.8,337.7 1422.8,340.1S1395.8,343.4 1395.8,345.8S1422.8,349.1 1422.8,351.5S1395.8,354.9 1395.8,357.3S1422.8,360.6 1422.8,363S1395.8,366.3 1395.8,368.7 M1458.3,322.9C1458.3,325.3 1431.2,326.2 1431.2,328.6S1458.3,331.9 1458.3,334.3S1431.2,337.7 1431.2,340.1S1458.3,343.4 1458.3,345.8S1431.2,349.1 1431.2,351.5S1458.3,354.9 1458.3,357.3S1431.2,360.6 1431.2,363S1458.3,366.3 1458.3,368.7" stroke-opacity="0.70" stroke-width="1.3"/>
<path d="M717,325.1C717,327.5 744.4,328.4 744.4,330.9S717,334.2 717,336.7S744.4,340.1 744.4,342.5S717,345.9 717,348.3S744.4,351.7 744.4,354.1S717,357.5 717,360S744.4,363.3 744.4,365.8S717,369.2 717,371.6 M780.3,325.1C780.3,327.5 752.9,328.4 752.9,330.9S780.3,334.2 780.3,336.7S752.9,340.1 752.9,342.5S780.3,345.9 780.3,348.3S752.9,351.7 752.9,354.1S780.3,357.5 780.3,360S752.9,363.3 752.9,365.8S780.3,369.2 780.3,371.6 M788.9,325.1C788.9,327.5 816.3,328.4 816.3,330.9S788.9,334.2 788.9,336.7S816.3,340.1 816.3,342.5S788.9,345.9 788.9,348.3S816.3,351.7 816.3,354.1S788.9,357.5 788.9,360S816.3,363.3 816.3,365.8S788.9,369.2 788.9,371.6 M852.2,325.1C852.2,327.5 824.8,328.4 824.8,330.9S852.2,334.2 852.2,336.7S824.8,340.1 824.8,342.5S852.2,345.9 852.2,348.3S824.8,351.7 824.8,354.1S852.2,357.5 852.2,360S824.8,363.3 824.8,365.8S852.2,369.2 852.2,371.6 M860.7,325.1C860.7,327.5 888.2,328.4 888.2,330.9S860.7,334.2 860.7,336.7S888.2,340.1 888.2,342.5S860.7,345.9 860.7,348.3S888.2,351.7 888.2,354.1S860.7,357.5 860.7,360S888.2,363.3 888.2,365.8S860.7,369.2 860.7,371.6 M924.1,325.1C924.1,327.5 896.7,328.4 896.7,330.9S924.1,334.2 924.1,336.7S896.7,340.1 896.7,342.5S924.1,345.9 924.1,348.3S896.7,351.7 896.7,354.1S924.1,357.5 924.1,360S896.7,363.3 896.7,365.8S924.1,369.2 924.1,371.6 M932.6,325.1C932.6,327.5 960.1,328.4 960.1,330.9S932.6,334.2 932.6,336.7S960.1,340.1 960.1,342.5S932.6,345.9 932.6,348.3S960.1,351.7 960.1,354.1S932.6,357.5 932.6,360S960.1,363.3 960.1,365.8S932.6,369.2 932.6,371.6 M996,325.1C996,327.5 968.6,328.4 968.6,330.9S996,334.2 996,336.7S968.6,340.1 968.6,342.5S996,345.9 996,348.3S968.6,351.7 968.6,354.1S996,357.5 996,360S968.6,363.3 968.6,365.8S996,369.2 996,371.6 M1004.5,325.1C1004.5,327.5 1032,328.4 1032,330.9S1004.5,334.2 1004.5,336.7S1032,340.1 1032,342.5S1004.5,345.9 1004.5,348.3S1032,351.7 1032,354.1S1004.5,357.5 1004.5,360S1032,363.3 1032,365.8S1004.5,369.2 1004.5,371.6 M1067.9,325.1C1067.9,327.5 1040.5,328.4 1040.5,330.9S1067.9,334.2 1067.9,336.7S1040.5,340.1 1040.5,342.5S1067.9,345.9 1067.9,348.3S1040.5,351.7 1040.5,354.1S1067.9,357.5 1067.9,360S1040.5,363.3 1040.5,365.8S1067.9,369.2 1067.9,371.6 M1076.4,325.1C1076.4,327.5 1103.9,328.4 1103.9,330.9S1076.4,334.2 1076.4,336.7S1103.9,340.1 1103.9,342.5S1076.4,345.9 1076.4,348.3S1103.9,351.7 1103.9,354.1S1076.4,357.5 1076.4,360S1103.9,363.3 1103.9,365.8S1076.4,369.2 1076.4,371.6 M1139.8,325.1C1139.8,327.5 1112.4,328.4 1112.4,330.9S1139.8,334.2 1139.8,336.7S1112.4,340.1 1112.4,342.5S1139.8,345.9 1139.8,348.3S1112.4,351.7 1112.4,354.1S1139.8,357.5 1139.8,360S1112.4,363.3 1112.4,365.8S1139.8,369.2 1139.8,371.6 M1148.3,325.1C1148.3,327.5 1175.7,328.4 1175.7,330.9S1148.3,334.2 1148.3,336.7S1175.7,340.1 1175.7,342.5S1148.3,345.9 1148.3,348.3S1175.7,351.7 1175.7,354.1S1148.3,357.5 1148.3,360S1175.7,363.3 1175.7,365.8S1148.3,369.2 1148.3,371.6 M1211.7,325.1C1211.7,327.5 1184.3,328.4 1184.3,330.9S1211.7,334.2 1211.7,336.7S1184.3,340.1 1184.3,342.5S1211.7,345.9 1211.7,348.3S1184.3,351.7 1184.3,354.1S1211.7,357.5 1211.7,360S1184.3,363.3 1184.3,365.8S1211.7,369.2 1211.7,371.6 M1220.2,325.1C1220.2,327.5 1247.6,328.4 1247.6,330.9S1220.2,334.2 1220.2,336.7S1247.6,340.1 1247.6,342.5S1220.2,345.9 1220.2,348.3S1247.6,351.7 1247.6,354.1S1220.2,357.5 1220.2,360S1247.6,363.3 1247.6,365.8S1220.2,369.2 1220.2,371.6 M1283.6,325.1C1283.6,327.5 1256.1,328.4 1256.1,330.9S1283.6,334.2 1283.6,336.7S1256.1,340.1 1256.1,342.5S1283.6,345.9 1283.6,348.3S1256.1,351.7 1256.1,354.1S1283.6,357.5 1283.6,360S1256.1,363.3 1256.1,365.8S1283.6,369.2 1283.6,371.6 M1292.1,325.1C1292.1,327.5 1319.5,328.4 1319.5,330.9S1292.1,334.2 1292.1,336.7S1319.5,340.1 1319.5,342.5S1292.1,345.9 1292.1,348.3S1319.5,351.7 1319.5,354.1S1292.1,357.5 1292.1,360S1319.5,363.3 1319.5,365.8S1292.1,369.2 1292.1,371.6 M1355.5,325.1C1355.5,327.5 1328,328.4 1328,330.9S1355.5,334.2 1355.5,336.7S1328,340.1 1328,342.5S1355.5,345.9 1355.5,348.3S1328,351.7 1328,354.1S1355.5,357.5 1355.5,360S1328,363.3 1328,365.8S1355.5,369.2 1355.5,371.6 M1364,325.1C1364,327.5 1391.4,328.4 1391.4,330.9S1364,334.2 1364,336.7S1391.4,340.1 1391.4,342.5S1364,345.9 1364,348.3S1391.4,351.7 1391.4,354.1S1364,357.5 1364,360S1391.4,363.3 1391.4,365.8S1364,369.2 1364,371.6 M1427.4,325.1C1427.4,327.5 1399.9,328.4 1399.9,330.9S1427.4,334.2 1427.4,336.7S1399.9,340.1 1399.9,342.5S1427.4,345.9 1427.4,348.3S1399.9,351.7 1399.9,354.1S1427.4,357.5 1427.4,360S1399.9,363.3 1399.9,365.8S1427.4,369.2 1427.4,371.6" stroke-opacity="0.75" stroke-width="1.4"/>
<path d="M739.2,327.2C739.2,329.7 711.3,330.7 711.3,333.1S739.2,336.6 739.2,339S711.3,342.5 711.3,344.9S739.2,348.4 739.2,350.8S711.3,354.3 711.3,356.7S739.2,360.2 739.2,362.6S711.3,366.1 711.3,368.5S739.2,372 739.2,374.4 M747.8,327.2C747.8,329.7 775.6,330.7 775.6,333.1S747.8,336.6 747.8,339S775.6,342.5 775.6,344.9S747.8,348.4 747.8,350.8S775.6,354.3 775.6,356.7S747.8,360.2 747.8,362.6S775.6,366.1 775.6,368.5S747.8,372 747.8,374.4 M812.1,327.2C812.1,329.7 784.3,330.7 784.3,333.1S812.1,336.6 812.1,339S784.3,342.5 784.3,344.9S812.1,348.4 812.1,350.8S784.3,354.3 784.3,356.7S812.1,360.2 812.1,362.6S784.3,366.1 784.3,368.5S812.1,372 812.1,374.4 M820.7,327.2C820.7,329.7 848.5,330.7 848.5,333.1S820.7,336.6 820.7,339S848.5,342.5 848.5,344.9S820.7,348.4 820.7,350.8S848.5,354.3 848.5,356.7S820.7,360.2 820.7,362.6S848.5,366.1 848.5,368.5S820.7,372 820.7,374.4 M885,327.2C885,329.7 857.2,330.7 857.2,333.1S885,336.6 885,339S857.2,342.5 857.2,344.9S885,348.4 885,350.8S857.2,354.3 857.2,356.7S885,360.2 885,362.6S857.2,366.1 857.2,368.5S885,372 885,374.4 M893.6,327.2C893.6,329.7 921.5,330.7 921.5,333.1S893.6,336.6 893.6,339S921.5,342.5 921.5,344.9S893.6,348.4 893.6,350.8S921.5,354.3 921.5,356.7S893.6,360.2 893.6,362.6S921.5,366.1 921.5,368.5S893.6,372 893.6,374.4 M957.9,327.2C957.9,329.7 930.1,330.7 930.1,333.1S957.9,336.6 957.9,339S930.1,342.5 930.1,344.9S957.9,348.4 957.9,350.8S930.1,354.3 930.1,356.7S957.9,360.2 957.9,362.6S930.1,366.1 930.1,368.5S957.9,372 957.9,374.4 M966.6,327.2C966.6,329.7 994.4,330.7 994.4,333.1S966.6,336.6 966.6,339S994.4,342.5 994.4,344.9S966.6,348.4 966.6,350.8S994.4,354.3 994.4,356.7S966.6,360.2 966.6,362.6S994.4,366.1 994.4,368.5S966.6,372 966.6,374.4 M1030.8,327.2C1030.8,329.7 1003,330.7 1003,333.1S1030.8,336.6 1030.8,339S1003,342.5 1003,344.9S1030.8,348.4 1030.8,350.8S1003,354.3 1003,356.7S1030.8,360.2 1030.8,362.6S1003,366.1 1003,368.5S1030.8,372 1030.8,374.4 M1039.5,327.2C1039.5,329.7 1067.3,330.7 1067.3,333.1S1039.5,336.6 1039.5,339S1067.3,342.5 1067.3,344.9S1039.5,348.4 1039.5,350.8S1067.3,354.3 1067.3,356.7S1039.5,360.2 1039.5,362.6S1067.3,366.1 1067.3,368.5S1039.5,372 1039.5,374.4 M1103.8,327.2C1103.8,329.7 1075.9,330.7 1075.9,333.1S1103.8,336.6 1103.8,339S1075.9,342.5 1075.9,344.9S1103.8,348.4 1103.8,350.8S1075.9,354.3 1075.9,356.7S1103.8,360.2 1103.8,362.6S1075.9,366.1 1075.9,368.5S1103.8,372 1103.8,374.4 M1112.4,327.2C1112.4,329.7 1140.2,330.7 1140.2,333.1S1112.4,336.6 1112.4,339S1140.2,342.5 1140.2,344.9S1112.4,348.4 1112.4,350.8S1140.2,354.3 1140.2,356.7S1112.4,360.2 1112.4,362.6S1140.2,366.1 1140.2,368.5S1112.4,372 1112.4,374.4 M1176.7,327.2C1176.7,329.7 1148.9,330.7 1148.9,333.1S1176.7,336.6 1176.7,339S1148.9,342.5 1148.9,344.9S1176.7,348.4 1176.7,350.8S1148.9,354.3 1148.9,356.7S1176.7,360.2 1176.7,362.6S1148.9,366.1 1148.9,368.5S1176.7,372 1176.7,374.4 M1185.3,327.2C1185.3,329.7 1213.1,330.7 1213.1,333.1S1185.3,336.6 1185.3,339S1213.1,342.5 1213.1,344.9S1185.3,348.4 1185.3,350.8S1213.1,354.3 1213.1,356.7S1185.3,360.2 1185.3,362.6S1213.1,366.1 1213.1,368.5S1185.3,372 1185.3,374.4 M1249.6,327.2C1249.6,329.7 1221.8,330.7 1221.8,333.1S1249.6,336.6 1249.6,339S1221.8,342.5 1221.8,344.9S1249.6,348.4 1249.6,350.8S1221.8,354.3 1221.8,356.7S1249.6,360.2 1249.6,362.6S1221.8,366.1 1221.8,368.5S1249.6,372 1249.6,374.4 M1258.2,327.2C1258.2,329.7 1286.1,330.7 1286.1,333.1S1258.2,336.6 1258.2,339S1286.1,342.5 1286.1,344.9S1258.2,348.4 1258.2,350.8S1286.1,354.3 1286.1,356.7S1258.2,360.2 1258.2,362.6S1286.1,366.1 1286.1,368.5S1258.2,372 1258.2,374.4 M1322.5,327.2C1322.5,329.7 1294.7,330.7 1294.7,333.1S1322.5,336.6 1322.5,339S1294.7,342.5 1294.7,344.9S1322.5,348.4 1322.5,350.8S1294.7,354.3 1294.7,356.7S1322.5,360.2 1322.5,362.6S1294.7,366.1 1294.7,368.5S1322.5,372 1322.5,374.4 M1331.2,327.2C1331.2,329.7 1359,330.7 1359,333.1S1331.2,336.6 1331.2,339S1359,342.5 1359,344.9S1331.2,348.4 1331.2,350.8S1359,354.3 1359,356.7S1331.2,360.2 1331.2,362.6S1359,366.1 1359,368.5S1331.2,372 1331.2,374.4 M1395.4,327.2C1395.4,329.7 1367.6,330.7 1367.6,333.1S1395.4,336.6 1395.4,339S1367.6,342.5 1367.6,344.9S1395.4,348.4 1395.4,350.8S1367.6,354.3 1367.6,356.7S1395.4,360.2 1395.4,362.6S1367.6,366.1 1367.6,368.5S1395.4,372 1395.4,374.4 M1404.1,327.2C1404.1,329.7 1431.9,330.7 1431.9,333.1S1404.1,336.6 1404.1,339S1431.9,342.5 1431.9,344.9S1404.1,348.4 1404.1,350.8S1431.9,354.3 1431.9,356.7S1404.1,360.2 1404.1,362.6S1431.9,366.1 1431.9,368.5S1404.1,372 1404.1,374.4" stroke-opacity="0.81" stroke-width="1.4"/>
<path d="M705.7,329.4C705.7,331.9 733.9,332.9 733.9,335.4S705.7,338.9 705.7,341.4S733.9,344.9 733.9,347.4S705.7,350.8 705.7,353.4S733.9,356.8 733.9,359.3S705.7,362.8 705.7,365.3S733.9,368.8 733.9,371.3S705.7,374.8 705.7,377.3 M770.9,329.4C770.9,331.9 742.7,332.9 742.7,335.4S770.9,338.9 770.9,341.4S742.7,344.9 742.7,347.4S770.9,350.8 770.9,353.4S742.7,356.8 742.7,359.3S770.9,362.8 770.9,365.3S742.7,368.8 742.7,371.3S770.9,374.8 770.9,377.3 M779.7,329.4C779.7,331.9 807.9,332.9 807.9,335.4S779.7,338.9 779.7,341.4S807.9,344.9 807.9,347.4S779.7,350.8 779.7,353.4S807.9,356.8 807.9,359.3S779.7,362.8 779.7,365.3S807.9,368.8 807.9,371.3S779.7,374.8 779.7,377.3 M844.9,329.4C844.9,331.9 816.6,332.9 816.6,335.4S844.9,338.9 844.9,341.4S816.6,344.9 816.6,347.4S844.9,350.8 844.9,353.4S816.6,356.8 816.6,359.3S844.9,362.8 844.9,365.3S816.6,368.8 816.6,371.3S844.9,374.8 844.9,377.3 M853.6,329.4C853.6,331.9 881.8,332.9 881.8,335.4S853.6,338.9 853.6,341.4S881.8,344.9 881.8,347.4S853.6,350.8 853.6,353.4S881.8,356.8 881.8,359.3S853.6,362.8 853.6,365.3S881.8,368.8 881.8,371.3S853.6,374.8 853.6,377.3 M918.8,329.4C918.8,331.9 890.6,332.9 890.6,335.4S918.8,338.9 918.8,341.4S890.6,344.9 890.6,347.4S918.8,350.8 918.8,353.4S890.6,356.8 890.6,359.3S918.8,362.8 918.8,365.3S890.6,368.8 890.6,371.3S918.8,374.8 918.8,377.3 M927.6,329.4C927.6,331.9 955.8,332.9 955.8,335.4S927.6,338.9 927.6,341.4S955.8,344.9 955.8,347.4S927.6,350.8 927.6,353.4S955.8,356.8 955.8,359.3S927.6,362.8 927.6,365.3S955.8,368.8 955.8,371.3S927.6,374.8 927.6,377.3 M992.8,329.4C992.8,331.9 964.5,332.9 964.5,335.4S992.8,338.9 992.8,341.4S964.5,344.9 964.5,347.4S992.8,350.8 992.8,353.4S964.5,356.8 964.5,359.3S992.8,362.8 992.8,365.3S964.5,368.8 964.5,371.3S992.8,374.8 992.8,377.3 M1001.5,329.4C1001.5,331.9 1029.7,332.9 1029.7,335.4S1001.5,338.9 1001.5,341.4S1029.7,344.9 1029.7,347.4S1001.5,350.8 1001.5,353.4S1029.7,356.8 1029.7,359.3S1001.5,362.8 1001.5,365.3S1029.7,368.8 1029.7,371.3S1001.5,374.8 1001.5,377.3 M1066.7,329.4C1066.7,331.9 1038.5,332.9 1038.5,335.4S1066.7,338.9 1066.7,341.4S1038.5,344.9 1038.5,347.4S1066.7,350.8 1066.7,353.4S1038.5,356.8 1038.5,359.3S1066.7,362.8 1066.7,365.3S1038.5,368.8 1038.5,371.3S1066.7,374.8 1066.7,377.3 M1075.5,329.4C1075.5,331.9 1103.7,332.9 1103.7,335.4S1075.5,338.9 1075.5,341.4S1103.7,344.9 1103.7,347.4S1075.5,350.8 1075.5,353.4S1103.7,356.8 1103.7,359.3S1075.5,362.8 1075.5,365.3S1103.7,368.8 1103.7,371.3S1075.5,374.8 1075.5,377.3 M1140.6,329.4C1140.6,331.9 1112.4,332.9 1112.4,335.4S1140.6,338.9 1140.6,341.4S1112.4,344.9 1112.4,347.4S1140.6,350.8 1140.6,353.4S1112.4,356.8 1112.4,359.3S1140.6,362.8 1140.6,365.3S1112.4,368.8 1112.4,371.3S1140.6,374.8 1140.6,377.3 M1149.4,329.4C1149.4,331.9 1177.6,332.9 1177.6,335.4S1149.4,338.9 1149.4,341.4S1177.6,344.9 1177.6,347.4S1149.4,350.8 1149.4,353.4S1177.6,356.8 1177.6,359.3S1149.4,362.8 1149.4,365.3S1177.6,368.8 1177.6,371.3S1149.4,374.8 1149.4,377.3 M1214.6,329.4C1214.6,331.9 1186.4,332.9 1186.4,335.4S1214.6,338.9 1214.6,341.4S1186.4,344.9 1186.4,347.4S1214.6,350.8 1214.6,353.4S1186.4,356.8 1186.4,359.3S1214.6,362.8 1214.6,365.3S1186.4,368.8 1186.4,371.3S1214.6,374.8 1214.6,377.3 M1223.4,329.4C1223.4,331.9 1251.6,332.9 1251.6,335.4S1223.4,338.9 1223.4,341.4S1251.6,344.9 1251.6,347.4S1223.4,350.8 1223.4,353.4S1251.6,356.8 1251.6,359.3S1223.4,362.8 1223.4,365.3S1251.6,368.8 1251.6,371.3S1223.4,374.8 1223.4,377.3 M1288.5,329.4C1288.5,331.9 1260.3,332.9 1260.3,335.4S1288.5,338.9 1288.5,341.4S1260.3,344.9 1260.3,347.4S1288.5,350.8 1288.5,353.4S1260.3,356.8 1260.3,359.3S1288.5,362.8 1288.5,365.3S1260.3,368.8 1260.3,371.3S1288.5,374.8 1288.5,377.3 M1297.3,329.4C1297.3,331.9 1325.5,332.9 1325.5,335.4S1297.3,338.9 1297.3,341.4S1325.5,344.9 1325.5,347.4S1297.3,350.8 1297.3,353.4S1325.5,356.8 1325.5,359.3S1297.3,362.8 1297.3,365.3S1325.5,368.8 1325.5,371.3S1297.3,374.8 1297.3,377.3 M1362.5,329.4C1362.5,331.9 1334.3,332.9 1334.3,335.4S1362.5,338.9 1362.5,341.4S1334.3,344.9 1334.3,347.4S1362.5,350.8 1362.5,353.4S1334.3,356.8 1334.3,359.3S1362.5,362.8 1362.5,365.3S1334.3,368.8 1334.3,371.3S1362.5,374.8 1362.5,377.3 M1371.2,329.4C1371.2,331.9 1399.5,332.9 1399.5,335.4S1371.2,338.9 1371.2,341.4S1399.5,344.9 1399.5,347.4S1371.2,350.8 1371.2,353.4S1399.5,356.8 1399.5,359.3S1371.2,362.8 1371.2,365.3S1399.5,368.8 1399.5,371.3S1371.2,374.8 1371.2,377.3 M1436.4,329.4C1436.4,331.9 1408.2,332.9 1408.2,335.4S1436.4,338.9 1436.4,341.4S1408.2,344.9 1408.2,347.4S1436.4,350.8 1436.4,353.4S1408.2,356.8 1408.2,359.3S1436.4,362.8 1436.4,365.3S1408.2,368.8 1408.2,371.3S1436.4,374.8 1436.4,377.3" stroke-opacity="0.87" stroke-width="1.4"/>
</g><g id="coilsF">
<path d="M728.7,331.6C728.7,334.2 700.1,335.1 700.1,337.7S728.7,341.2 728.7,343.7S700.1,347.3 700.1,349.8S728.7,353.3 728.7,355.9S700.1,359.4 700.1,361.9S728.7,365.5 728.7,368S700.1,371.5 700.1,374.1S728.7,377.6 728.7,380.1 M737.6,331.6C737.6,334.2 766.2,335.1 766.2,337.7S737.6,341.2 737.6,343.7S766.2,347.3 766.2,349.8S737.6,353.3 737.6,355.9S766.2,359.4 766.2,361.9S737.6,365.5 737.6,368S766.2,371.5 766.2,374.1S737.6,377.6 737.6,380.1 M803.7,331.6C803.7,334.2 775.1,335.1 775.1,337.7S803.7,341.2 803.7,343.7S775.1,347.3 775.1,349.8S803.7,353.3 803.7,355.9S775.1,359.4 775.1,361.9S803.7,365.5 803.7,368S775.1,371.5 775.1,374.1S803.7,377.6 803.7,380.1 M812.6,331.6C812.6,334.2 841.2,335.1 841.2,337.7S812.6,341.2 812.6,343.7S841.2,347.3 841.2,349.8S812.6,353.3 812.6,355.9S841.2,359.4 841.2,361.9S812.6,365.5 812.6,368S841.2,371.5 841.2,374.1S812.6,377.6 812.6,380.1 M878.7,331.6C878.7,334.2 850.1,335.1 850.1,337.7S878.7,341.2 878.7,343.7S850.1,347.3 850.1,349.8S878.7,353.3 878.7,355.9S850.1,359.4 850.1,361.9S878.7,365.5 878.7,368S850.1,371.5 850.1,374.1S878.7,377.6 878.7,380.1 M887.5,331.6C887.5,334.2 916.2,335.1 916.2,337.7S887.5,341.2 887.5,343.7S916.2,347.3 916.2,349.8S887.5,353.3 887.5,355.9S916.2,359.4 916.2,361.9S887.5,365.5 887.5,368S916.2,371.5 916.2,374.1S887.5,377.6 887.5,380.1 M953.6,331.6C953.6,334.2 925,335.1 925,337.7S953.6,341.2 953.6,343.7S925,347.3 925,349.8S953.6,353.3 953.6,355.9S925,359.4 925,361.9S953.6,365.5 953.6,368S925,371.5 925,374.1S953.6,377.6 953.6,380.1 M962.5,331.6C962.5,334.2 991.1,335.1 991.1,337.7S962.5,341.2 962.5,343.7S991.1,347.3 991.1,349.8S962.5,353.3 962.5,355.9S991.1,359.4 991.1,361.9S962.5,365.5 962.5,368S991.1,371.5 991.1,374.1S962.5,377.6 962.5,380.1 M1028.6,331.6C1028.6,334.2 1000,335.1 1000,337.7S1028.6,341.2 1028.6,343.7S1000,347.3 1000,349.8S1028.6,353.3 1028.6,355.9S1000,359.4 1000,361.9S1028.6,365.5 1028.6,368S1000,371.5 1000,374.1S1028.6,377.6 1028.6,380.1 M1037.5,331.6C1037.5,334.2 1066.1,335.1 1066.1,337.7S1037.5,341.2 1037.5,343.7S1066.1,347.3 1066.1,349.8S1037.5,353.3 1037.5,355.9S1066.1,359.4 1066.1,361.9S1037.5,365.5 1037.5,368S1066.1,371.5 1066.1,374.1S1037.5,377.6 1037.5,380.1 M1103.6,331.6C1103.6,334.2 1075,335.1 1075,337.7S1103.6,341.2 1103.6,343.7S1075,347.3 1075,349.8S1103.6,353.3 1103.6,355.9S1075,359.4 1075,361.9S1103.6,365.5 1103.6,368S1075,371.5 1075,374.1S1103.6,377.6 1103.6,380.1 M1112.5,331.6C1112.5,334.2 1141.1,335.1 1141.1,337.7S1112.5,341.2 1112.5,343.7S1141.1,347.3 1141.1,349.8S1112.5,353.3 1112.5,355.9S1141.1,359.4 1141.1,361.9S1112.5,365.5 1112.5,368S1141.1,371.5 1141.1,374.1S1112.5,377.6 1112.5,380.1 M1178.6,331.6C1178.6,334.2 1150,335.1 1150,337.7S1178.6,341.2 1178.6,343.7S1150,347.3 1150,349.8S1178.6,353.3 1178.6,355.9S1150,359.4 1150,361.9S1178.6,365.5 1178.6,368S1150,371.5 1150,374.1S1178.6,377.6 1178.6,380.1 M1187.4,331.6C1187.4,334.2 1216,335.1 1216,337.7S1187.4,341.2 1187.4,343.7S1216,347.3 1216,349.8S1187.4,353.3 1187.4,355.9S1216,359.4 1216,361.9S1187.4,365.5 1187.4,368S1216,371.5 1216,374.1S1187.4,377.6 1187.4,380.1 M1253.5,331.6C1253.5,334.2 1224.9,335.1 1224.9,337.7S1253.5,341.2 1253.5,343.7S1224.9,347.3 1224.9,349.8S1253.5,353.3 1253.5,355.9S1224.9,359.4 1224.9,361.9S1253.5,365.5 1253.5,368S1224.9,371.5 1224.9,374.1S1253.5,377.6 1253.5,380.1 M1262.4,331.6C1262.4,334.2 1291,335.1 1291,337.7S1262.4,341.2 1262.4,343.7S1291,347.3 1291,349.8S1262.4,353.3 1262.4,355.9S1291,359.4 1291,361.9S1262.4,365.5 1262.4,368S1291,371.5 1291,374.1S1262.4,377.6 1262.4,380.1 M1328.5,331.6C1328.5,334.2 1299.9,335.1 1299.9,337.7S1328.5,341.2 1328.5,343.7S1299.9,347.3 1299.9,349.8S1328.5,353.3 1328.5,355.9S1299.9,359.4 1299.9,361.9S1328.5,365.5 1328.5,368S1299.9,371.5 1299.9,374.1S1328.5,377.6 1328.5,380.1 M1337.4,331.6C1337.4,334.2 1366,335.1 1366,337.7S1337.4,341.2 1337.4,343.7S1366,347.3 1366,349.8S1337.4,353.3 1337.4,355.9S1366,359.4 1366,361.9S1337.4,365.5 1337.4,368S1366,371.5 1366,374.1S1337.4,377.6 1337.4,380.1 M1403.5,331.6C1403.5,334.2 1374.9,335.1 1374.9,337.7S1403.5,341.2 1403.5,343.7S1374.9,347.3 1374.9,349.8S1403.5,353.3 1403.5,355.9S1374.9,359.4 1374.9,361.9S1403.5,365.5 1403.5,368S1374.9,371.5 1374.9,374.1S1403.5,377.6 1403.5,380.1 M1412.4,331.6C1412.4,334.2 1441,335.1 1441,337.7S1412.4,341.2 1412.4,343.7S1441,347.3 1441,349.8S1412.4,353.3 1412.4,355.9S1441,359.4 1441,361.9S1412.4,365.5 1412.4,368S1441,371.5 1441,374.1S1412.4,377.6 1412.4,380.1" stroke-opacity="0.93" stroke-width="1.5"/>
<path d="M694.5,333.8C694.5,336.4 723.5,337.4 723.5,339.9S694.5,343.5 694.5,346.1S723.5,349.7 723.5,352.2S694.5,355.8 694.5,358.4S723.5,362 723.5,364.6S694.5,368.1 694.5,370.7S723.5,374.3 723.5,376.9S694.5,380.4 694.5,383 M761.5,333.8C761.5,336.4 732.5,337.4 732.5,339.9S761.5,343.5 761.5,346.1S732.5,349.7 732.5,352.2S761.5,355.8 761.5,358.4S732.5,362 732.5,364.6S761.5,368.1 761.5,370.7S732.5,374.3 732.5,376.9S761.5,380.4 761.5,383 M770.5,333.8C770.5,336.4 799.5,337.4 799.5,339.9S770.5,343.5 770.5,346.1S799.5,349.7 799.5,352.2S770.5,355.8 770.5,358.4S799.5,362 799.5,364.6S770.5,368.1 770.5,370.7S799.5,374.3 799.5,376.9S770.5,380.4 770.5,383 M837.5,333.8C837.5,336.4 808.5,337.4 808.5,339.9S837.5,343.5 837.5,346.1S808.5,349.7 808.5,352.2S837.5,355.8 837.5,358.4S808.5,362 808.5,364.6S837.5,368.1 837.5,370.7S808.5,374.3 808.5,376.9S837.5,380.4 837.5,383 M846.5,333.8C846.5,336.4 875.5,337.4 875.5,339.9S846.5,343.5 846.5,346.1S875.5,349.7 875.5,352.2S846.5,355.8 846.5,358.4S875.5,362 875.5,364.6S846.5,368.1 846.5,370.7S875.5,374.3 875.5,376.9S846.5,380.4 846.5,383 M913.5,333.8C913.5,336.4 884.5,337.4 884.5,339.9S913.5,343.5 913.5,346.1S884.5,349.7 884.5,352.2S913.5,355.8 913.5,358.4S884.5,362 884.5,364.6S913.5,368.1 913.5,370.7S884.5,374.3 884.5,376.9S913.5,380.4 913.5,383 M922.5,333.8C922.5,336.4 951.5,337.4 951.5,339.9S922.5,343.5 922.5,346.1S951.5,349.7 951.5,352.2S922.5,355.8 922.5,358.4S951.5,362 951.5,364.6S922.5,368.1 922.5,370.7S951.5,374.3 951.5,376.9S922.5,380.4 922.5,383 M989.5,333.8C989.5,336.4 960.5,337.4 960.5,339.9S989.5,343.5 989.5,346.1S960.5,349.7 960.5,352.2S989.5,355.8 989.5,358.4S960.5,362 960.5,364.6S989.5,368.1 989.5,370.7S960.5,374.3 960.5,376.9S989.5,380.4 989.5,383 M998.5,333.8C998.5,336.4 1027.5,337.4 1027.5,339.9S998.5,343.5 998.5,346.1S1027.5,349.7 1027.5,352.2S998.5,355.8 998.5,358.4S1027.5,362 1027.5,364.6S998.5,368.1 998.5,370.7S1027.5,374.3 1027.5,376.9S998.5,380.4 998.5,383 M1065.5,333.8C1065.5,336.4 1036.5,337.4 1036.5,339.9S1065.5,343.5 1065.5,346.1S1036.5,349.7 1036.5,352.2S1065.5,355.8 1065.5,358.4S1036.5,362 1036.5,364.6S1065.5,368.1 1065.5,370.7S1036.5,374.3 1036.5,376.9S1065.5,380.4 1065.5,383 M1074.5,333.8C1074.5,336.4 1103.5,337.4 1103.5,339.9S1074.5,343.5 1074.5,346.1S1103.5,349.7 1103.5,352.2S1074.5,355.8 1074.5,358.4S1103.5,362 1103.5,364.6S1074.5,368.1 1074.5,370.7S1103.5,374.3 1103.5,376.9S1074.5,380.4 1074.5,383 M1141.5,333.8C1141.5,336.4 1112.5,337.4 1112.5,339.9S1141.5,343.5 1141.5,346.1S1112.5,349.7 1112.5,352.2S1141.5,355.8 1141.5,358.4S1112.5,362 1112.5,364.6S1141.5,368.1 1141.5,370.7S1112.5,374.3 1112.5,376.9S1141.5,380.4 1141.5,383 M1150.5,333.8C1150.5,336.4 1179.5,337.4 1179.5,339.9S1150.5,343.5 1150.5,346.1S1179.5,349.7 1179.5,352.2S1150.5,355.8 1150.5,358.4S1179.5,362 1179.5,364.6S1150.5,368.1 1150.5,370.7S1179.5,374.3 1179.5,376.9S1150.5,380.4 1150.5,383 M1217.5,333.8C1217.5,336.4 1188.5,337.4 1188.5,339.9S1217.5,343.5 1217.5,346.1S1188.5,349.7 1188.5,352.2S1217.5,355.8 1217.5,358.4S1188.5,362 1188.5,364.6S1217.5,368.1 1217.5,370.7S1188.5,374.3 1188.5,376.9S1217.5,380.4 1217.5,383 M1226.5,333.8C1226.5,336.4 1255.5,337.4 1255.5,339.9S1226.5,343.5 1226.5,346.1S1255.5,349.7 1255.5,352.2S1226.5,355.8 1226.5,358.4S1255.5,362 1255.5,364.6S1226.5,368.1 1226.5,370.7S1255.5,374.3 1255.5,376.9S1226.5,380.4 1226.5,383 M1293.5,333.8C1293.5,336.4 1264.5,337.4 1264.5,339.9S1293.5,343.5 1293.5,346.1S1264.5,349.7 1264.5,352.2S1293.5,355.8 1293.5,358.4S1264.5,362 1264.5,364.6S1293.5,368.1 1293.5,370.7S1264.5,374.3 1264.5,376.9S1293.5,380.4 1293.5,383 M1302.5,333.8C1302.5,336.4 1331.5,337.4 1331.5,339.9S1302.5,343.5 1302.5,346.1S1331.5,349.7 1331.5,352.2S1302.5,355.8 1302.5,358.4S1331.5,362 1331.5,364.6S1302.5,368.1 1302.5,370.7S1331.5,374.3 1331.5,376.9S1302.5,380.4 1302.5,383 M1369.5,333.8C1369.5,336.4 1340.5,337.4 1340.5,339.9S1369.5,343.5 1369.5,346.1S1340.5,349.7 1340.5,352.2S1369.5,355.8 1369.5,358.4S1340.5,362 1340.5,364.6S1369.5,368.1 1369.5,370.7S1340.5,374.3 1340.5,376.9S1369.5,380.4 1369.5,383 M1378.5,333.8C1378.5,336.4 1407.5,337.4 1407.5,339.9S1378.5,343.5 1378.5,346.1S1407.5,349.7 1407.5,352.2S1378.5,355.8 1378.5,358.4S1407.5,362 1407.5,364.6S1378.5,368.1 1378.5,370.7S1407.5,374.3 1407.5,376.9S1378.5,380.4 1378.5,383 M1445.5,333.8C1445.5,336.4 1416.5,337.4 1416.5,339.9S1445.5,343.5 1445.5,346.1S1416.5,349.7 1416.5,352.2S1445.5,355.8 1445.5,358.4S1416.5,362 1416.5,364.6S1445.5,368.1 1445.5,370.7S1416.5,374.3 1416.5,376.9S1445.5,380.4 1445.5,383" stroke-opacity="1.00" stroke-width="1.5"/>
</g></defs>
<g id="springs" clip-path="url(#springclip)" fill="none">
<g clip-path="url(#whitezone)" stroke="#484848"><use href="#coilsB" opacity=".6"/><use href="#coilsF"/></g>
<g clip-path="url(#feltzone)" stroke="#c6c6c6"><use href="#coilsB" opacity=".4"/><use href="#coilsF"/></g>
<g stroke="#303030" stroke-width="1.05" fill="#2a2a2a" fill-opacity=".38" clip-path="url(#topzone)">
<path d="M778.7,301 a11.6,1.2 0 1,0 23.1,0 a11.6,1.2 0 1,0 -23.1,0 M809,301 a11.6,1.2 0 1,0 23.1,0 a11.6,1.2 0 1,0 -23.1,0 M839.3,301 a11.6,1.2 0 1,0 23.1,0 a11.6,1.2 0 1,0 -23.1,0 M869.6,301 a11.6,1.2 0 1,0 23.1,0 a11.6,1.2 0 1,0 -23.1,0 M899.9,301 a11.6,1.2 0 1,0 23.1,0 a11.6,1.2 0 1,0 -23.1,0 M930.2,301 a11.6,1.2 0 1,0 23.1,0 a11.6,1.2 0 1,0 -23.1,0 M960.5,301 a11.6,1.2 0 1,0 23.1,0 a11.6,1.2 0 1,0 -23.1,0 M990.8,301 a11.6,1.2 0 1,0 23.1,0 a11.6,1.2 0 1,0 -23.1,0 M1021.1,301 a11.6,1.2 0 1,0 23.1,0 a11.6,1.2 0 1,0 -23.1,0 M1051.4,301 a11.6,1.2 0 1,0 23.1,0 a11.6,1.2 0 1,0 -23.1,0 M1081.7,301 a11.6,1.2 0 1,0 23.1,0 a11.6,1.2 0 1,0 -23.1,0 M1112,301 a11.6,1.2 0 1,0 23.1,0 a11.6,1.2 0 1,0 -23.1,0 M1142.3,301 a11.6,1.2 0 1,0 23.1,0 a11.6,1.2 0 1,0 -23.1,0 M1172.6,301 a11.6,1.2 0 1,0 23.1,0 a11.6,1.2 0 1,0 -23.1,0 M1202.9,301 a11.6,1.2 0 1,0 23.1,0 a11.6,1.2 0 1,0 -23.1,0 M1233.2,301 a11.6,1.2 0 1,0 23.1,0 a11.6,1.2 0 1,0 -23.1,0 M1263.5,301 a11.6,1.2 0 1,0 23.1,0 a11.6,1.2 0 1,0 -23.1,0 M1293.8,301 a11.6,1.2 0 1,0 23.1,0 a11.6,1.2 0 1,0 -23.1,0 M1324.1,301 a11.6,1.2 0 1,0 23.1,0 a11.6,1.2 0 1,0 -23.1,0 M1354.4,301 a11.6,1.2 0 1,0 23.1,0 a11.6,1.2 0 1,0 -23.1,0 M1384.7,301 a11.6,1.2 0 1,0 23.1,0 a11.6,1.2 0 1,0 -23.1,0 M1415,301 a11.6,1.2 0 1,0 23.1,0 a11.6,1.2 0 1,0 -23.1,0" opacity="0.50"/>
<path d="M773.1,303.2 a11.8,1.2 0 1,0 23.5,0 a11.8,1.2 0 1,0 -23.5,0 M803.9,303.2 a11.8,1.2 0 1,0 23.5,0 a11.8,1.2 0 1,0 -23.5,0 M834.7,303.2 a11.8,1.2 0 1,0 23.5,0 a11.8,1.2 0 1,0 -23.5,0 M865.5,303.2 a11.8,1.2 0 1,0 23.5,0 a11.8,1.2 0 1,0 -23.5,0 M896.4,303.2 a11.8,1.2 0 1,0 23.5,0 a11.8,1.2 0 1,0 -23.5,0 M927.2,303.2 a11.8,1.2 0 1,0 23.5,0 a11.8,1.2 0 1,0 -23.5,0 M958,303.2 a11.8,1.2 0 1,0 23.5,0 a11.8,1.2 0 1,0 -23.5,0 M988.8,303.2 a11.8,1.2 0 1,0 23.5,0 a11.8,1.2 0 1,0 -23.5,0 M1019.6,303.2 a11.8,1.2 0 1,0 23.5,0 a11.8,1.2 0 1,0 -23.5,0 M1050.4,303.2 a11.8,1.2 0 1,0 23.5,0 a11.8,1.2 0 1,0 -23.5,0 M1081.2,303.2 a11.8,1.2 0 1,0 23.5,0 a11.8,1.2 0 1,0 -23.5,0 M1112,303.2 a11.8,1.2 0 1,0 23.5,0 a11.8,1.2 0 1,0 -23.5,0 M1142.8,303.2 a11.8,1.2 0 1,0 23.5,0 a11.8,1.2 0 1,0 -23.5,0 M1173.6,303.2 a11.8,1.2 0 1,0 23.5,0 a11.8,1.2 0 1,0 -23.5,0 M1204.5,303.2 a11.8,1.2 0 1,0 23.5,0 a11.8,1.2 0 1,0 -23.5,0 M1235.3,303.2 a11.8,1.2 0 1,0 23.5,0 a11.8,1.2 0 1,0 -23.5,0 M1266.1,303.2 a11.8,1.2 0 1,0 23.5,0 a11.8,1.2 0 1,0 -23.5,0 M1296.9,303.2 a11.8,1.2 0 1,0 23.5,0 a11.8,1.2 0 1,0 -23.5,0 M1327.7,303.2 a11.8,1.2 0 1,0 23.5,0 a11.8,1.2 0 1,0 -23.5,0 M1358.5,303.2 a11.8,1.2 0 1,0 23.5,0 a11.8,1.2 0 1,0 -23.5,0 M1389.3,303.2 a11.8,1.2 0 1,0 23.5,0 a11.8,1.2 0 1,0 -23.5,0 M1420.1,303.2 a11.8,1.2 0 1,0 23.5,0 a11.8,1.2 0 1,0 -23.5,0" opacity="0.56"/>
<path d="M767.5,305.4 a12,1.2 0 1,0 23.9,0 a12,1.2 0 1,0 -23.9,0 M798.8,305.4 a12,1.2 0 1,0 23.9,0 a12,1.2 0 1,0 -23.9,0 M830.1,305.4 a12,1.2 0 1,0 23.9,0 a12,1.2 0 1,0 -23.9,0 M861.5,305.4 a12,1.2 0 1,0 23.9,0 a12,1.2 0 1,0 -23.9,0 M892.8,305.4 a12,1.2 0 1,0 23.9,0 a12,1.2 0 1,0 -23.9,0 M924.1,305.4 a12,1.2 0 1,0 23.9,0 a12,1.2 0 1,0 -23.9,0 M955.4,305.4 a12,1.2 0 1,0 23.9,0 a12,1.2 0 1,0 -23.9,0 M986.8,305.4 a12,1.2 0 1,0 23.9,0 a12,1.2 0 1,0 -23.9,0 M1018.1,305.4 a12,1.2 0 1,0 23.9,0 a12,1.2 0 1,0 -23.9,0 M1049.4,305.4 a12,1.2 0 1,0 23.9,0 a12,1.2 0 1,0 -23.9,0 M1080.7,305.4 a12,1.2 0 1,0 23.9,0 a12,1.2 0 1,0 -23.9,0 M1112.1,305.4 a12,1.2 0 1,0 23.9,0 a12,1.2 0 1,0 -23.9,0 M1143.4,305.4 a12,1.2 0 1,0 23.9,0 a12,1.2 0 1,0 -23.9,0 M1174.7,305.4 a12,1.2 0 1,0 23.9,0 a12,1.2 0 1,0 -23.9,0 M1206,305.4 a12,1.2 0 1,0 23.9,0 a12,1.2 0 1,0 -23.9,0 M1237.4,305.4 a12,1.2 0 1,0 23.9,0 a12,1.2 0 1,0 -23.9,0 M1268.7,305.4 a12,1.2 0 1,0 23.9,0 a12,1.2 0 1,0 -23.9,0 M1300,305.4 a12,1.2 0 1,0 23.9,0 a12,1.2 0 1,0 -23.9,0 M1331.3,305.4 a12,1.2 0 1,0 23.9,0 a12,1.2 0 1,0 -23.9,0 M1362.7,305.4 a12,1.2 0 1,0 23.9,0 a12,1.2 0 1,0 -23.9,0 M1394,305.4 a12,1.2 0 1,0 23.9,0 a12,1.2 0 1,0 -23.9,0 M1425.3,305.4 a12,1.2 0 1,0 23.9,0 a12,1.2 0 1,0 -23.9,0" opacity="0.60"/>
<path d="M761.9,307.6 a12.1,1.3 0 1,0 24.3,0 a12.1,1.3 0 1,0 -24.3,0 M793.7,307.6 a12.1,1.3 0 1,0 24.3,0 a12.1,1.3 0 1,0 -24.3,0 M825.6,307.6 a12.1,1.3 0 1,0 24.3,0 a12.1,1.3 0 1,0 -24.3,0 M857.4,307.6 a12.1,1.3 0 1,0 24.3,0 a12.1,1.3 0 1,0 -24.3,0 M889.2,307.6 a12.1,1.3 0 1,0 24.3,0 a12.1,1.3 0 1,0 -24.3,0 M921.1,307.6 a12.1,1.3 0 1,0 24.3,0 a12.1,1.3 0 1,0 -24.3,0 M952.9,307.6 a12.1,1.3 0 1,0 24.3,0 a12.1,1.3 0 1,0 -24.3,0 M984.7,307.6 a12.1,1.3 0 1,0 24.3,0 a12.1,1.3 0 1,0 -24.3,0 M1016.6,307.6 a12.1,1.3 0 1,0 24.3,0 a12.1,1.3 0 1,0 -24.3,0 M1048.4,307.6 a12.1,1.3 0 1,0 24.3,0 a12.1,1.3 0 1,0 -24.3,0 M1080.3,307.6 a12.1,1.3 0 1,0 24.3,0 a12.1,1.3 0 1,0 -24.3,0 M1112.1,307.6 a12.1,1.3 0 1,0 24.3,0 a12.1,1.3 0 1,0 -24.3,0 M1143.9,307.6 a12.1,1.3 0 1,0 24.3,0 a12.1,1.3 0 1,0 -24.3,0 M1175.8,307.6 a12.1,1.3 0 1,0 24.3,0 a12.1,1.3 0 1,0 -24.3,0 M1207.6,307.6 a12.1,1.3 0 1,0 24.3,0 a12.1,1.3 0 1,0 -24.3,0 M1239.4,307.6 a12.1,1.3 0 1,0 24.3,0 a12.1,1.3 0 1,0 -24.3,0 M1271.3,307.6 a12.1,1.3 0 1,0 24.3,0 a12.1,1.3 0 1,0 -24.3,0 M1303.1,307.6 a12.1,1.3 0 1,0 24.3,0 a12.1,1.3 0 1,0 -24.3,0 M1335,307.6 a12.1,1.3 0 1,0 24.3,0 a12.1,1.3 0 1,0 -24.3,0 M1366.8,307.6 a12.1,1.3 0 1,0 24.3,0 a12.1,1.3 0 1,0 -24.3,0 M1398.6,307.6 a12.1,1.3 0 1,0 24.3,0 a12.1,1.3 0 1,0 -24.3,0 M1430.5,307.6 a12.1,1.3 0 1,0 24.3,0 a12.1,1.3 0 1,0 -24.3,0" opacity="0.64"/>
<path d="M756.3,309.7 a12.3,1.3 0 1,0 24.7,0 a12.3,1.3 0 1,0 -24.7,0 M788.6,309.7 a12.3,1.3 0 1,0 24.7,0 a12.3,1.3 0 1,0 -24.7,0 M821,309.7 a12.3,1.3 0 1,0 24.7,0 a12.3,1.3 0 1,0 -24.7,0 M853.3,309.7 a12.3,1.3 0 1,0 24.7,0 a12.3,1.3 0 1,0 -24.7,0 M885.7,309.7 a12.3,1.3 0 1,0 24.7,0 a12.3,1.3 0 1,0 -24.7,0 M918,309.7 a12.3,1.3 0 1,0 24.7,0 a12.3,1.3 0 1,0 -24.7,0 M950.4,309.7 a12.3,1.3 0 1,0 24.7,0 a12.3,1.3 0 1,0 -24.7,0 M982.7,309.7 a12.3,1.3 0 1,0 24.7,0 a12.3,1.3 0 1,0 -24.7,0 M1015.1,309.7 a12.3,1.3 0 1,0 24.7,0 a12.3,1.3 0 1,0 -24.7,0 M1047.4,309.7 a12.3,1.3 0 1,0 24.7,0 a12.3,1.3 0 1,0 -24.7,0 M1079.8,309.7 a12.3,1.3 0 1,0 24.7,0 a12.3,1.3 0 1,0 -24.7,0 M1112.1,309.7 a12.3,1.3 0 1,0 24.7,0 a12.3,1.3 0 1,0 -24.7,0 M1144.5,309.7 a12.3,1.3 0 1,0 24.7,0 a12.3,1.3 0 1,0 -24.7,0 M1176.8,309.7 a12.3,1.3 0 1,0 24.7,0 a12.3,1.3 0 1,0 -24.7,0 M1209.2,309.7 a12.3,1.3 0 1,0 24.7,0 a12.3,1.3 0 1,0 -24.7,0 M1241.5,309.7 a12.3,1.3 0 1,0 24.7,0 a12.3,1.3 0 1,0 -24.7,0 M1273.9,309.7 a12.3,1.3 0 1,0 24.7,0 a12.3,1.3 0 1,0 -24.7,0 M1306.2,309.7 a12.3,1.3 0 1,0 24.7,0 a12.3,1.3 0 1,0 -24.7,0 M1338.6,309.7 a12.3,1.3 0 1,0 24.7,0 a12.3,1.3 0 1,0 -24.7,0 M1370.9,309.7 a12.3,1.3 0 1,0 24.7,0 a12.3,1.3 0 1,0 -24.7,0 M1403.3,309.7 a12.3,1.3 0 1,0 24.7,0 a12.3,1.3 0 1,0 -24.7,0" opacity="0.67"/>
<path d="M750.7,311.9 a12.5,1.3 0 1,0 25.1,0 a12.5,1.3 0 1,0 -25.1,0 M783.5,311.9 a12.5,1.3 0 1,0 25.1,0 a12.5,1.3 0 1,0 -25.1,0 M816.4,311.9 a12.5,1.3 0 1,0 25.1,0 a12.5,1.3 0 1,0 -25.1,0 M849.2,311.9 a12.5,1.3 0 1,0 25.1,0 a12.5,1.3 0 1,0 -25.1,0 M882.1,311.9 a12.5,1.3 0 1,0 25.1,0 a12.5,1.3 0 1,0 -25.1,0 M915,311.9 a12.5,1.3 0 1,0 25.1,0 a12.5,1.3 0 1,0 -25.1,0 M947.8,311.9 a12.5,1.3 0 1,0 25.1,0 a12.5,1.3 0 1,0 -25.1,0 M980.7,311.9 a12.5,1.3 0 1,0 25.1,0 a12.5,1.3 0 1,0 -25.1,0 M1013.6,311.9 a12.5,1.3 0 1,0 25.1,0 a12.5,1.3 0 1,0 -25.1,0 M1046.4,311.9 a12.5,1.3 0 1,0 25.1,0 a12.5,1.3 0 1,0 -25.1,0 M1079.3,311.9 a12.5,1.3 0 1,0 25.1,0 a12.5,1.3 0 1,0 -25.1,0 M1112.2,311.9 a12.5,1.3 0 1,0 25.1,0 a12.5,1.3 0 1,0 -25.1,0 M1145,311.9 a12.5,1.3 0 1,0 25.1,0 a12.5,1.3 0 1,0 -25.1,0 M1177.9,311.9 a12.5,1.3 0 1,0 25.1,0 a12.5,1.3 0 1,0 -25.1,0 M1210.8,311.9 a12.5,1.3 0 1,0 25.1,0 a12.5,1.3 0 1,0 -25.1,0 M1243.6,311.9 a12.5,1.3 0 1,0 25.1,0 a12.5,1.3 0 1,0 -25.1,0 M1276.5,311.9 a12.5,1.3 0 1,0 25.1,0 a12.5,1.3 0 1,0 -25.1,0 M1309.3,311.9 a12.5,1.3 0 1,0 25.1,0 a12.5,1.3 0 1,0 -25.1,0 M1342.2,311.9 a12.5,1.3 0 1,0 25.1,0 a12.5,1.3 0 1,0 -25.1,0 M1375.1,311.9 a12.5,1.3 0 1,0 25.1,0 a12.5,1.3 0 1,0 -25.1,0 M1407.9,311.9 a12.5,1.3 0 1,0 25.1,0 a12.5,1.3 0 1,0 -25.1,0" opacity="0.71"/>
<path d="M745,314.1 a12.7,1.3 0 1,0 25.5,0 a12.7,1.3 0 1,0 -25.5,0 M778.4,314.1 a12.7,1.3 0 1,0 25.5,0 a12.7,1.3 0 1,0 -25.5,0 M811.8,314.1 a12.7,1.3 0 1,0 25.5,0 a12.7,1.3 0 1,0 -25.5,0 M845.2,314.1 a12.7,1.3 0 1,0 25.5,0 a12.7,1.3 0 1,0 -25.5,0 M878.5,314.1 a12.7,1.3 0 1,0 25.5,0 a12.7,1.3 0 1,0 -25.5,0 M911.9,314.1 a12.7,1.3 0 1,0 25.5,0 a12.7,1.3 0 1,0 -25.5,0 M945.3,314.1 a12.7,1.3 0 1,0 25.5,0 a12.7,1.3 0 1,0 -25.5,0 M978.7,314.1 a12.7,1.3 0 1,0 25.5,0 a12.7,1.3 0 1,0 -25.5,0 M1012.1,314.1 a12.7,1.3 0 1,0 25.5,0 a12.7,1.3 0 1,0 -25.5,0 M1045.4,314.1 a12.7,1.3 0 1,0 25.5,0 a12.7,1.3 0 1,0 -25.5,0 M1078.8,314.1 a12.7,1.3 0 1,0 25.5,0 a12.7,1.3 0 1,0 -25.5,0 M1112.2,314.1 a12.7,1.3 0 1,0 25.5,0 a12.7,1.3 0 1,0 -25.5,0 M1145.6,314.1 a12.7,1.3 0 1,0 25.5,0 a12.7,1.3 0 1,0 -25.5,0 M1179,314.1 a12.7,1.3 0 1,0 25.5,0 a12.7,1.3 0 1,0 -25.5,0 M1212.3,314.1 a12.7,1.3 0 1,0 25.5,0 a12.7,1.3 0 1,0 -25.5,0 M1245.7,314.1 a12.7,1.3 0 1,0 25.5,0 a12.7,1.3 0 1,0 -25.5,0 M1279.1,314.1 a12.7,1.3 0 1,0 25.5,0 a12.7,1.3 0 1,0 -25.5,0 M1312.5,314.1 a12.7,1.3 0 1,0 25.5,0 a12.7,1.3 0 1,0 -25.5,0 M1345.8,314.1 a12.7,1.3 0 1,0 25.5,0 a12.7,1.3 0 1,0 -25.5,0 M1379.2,314.1 a12.7,1.3 0 1,0 25.5,0 a12.7,1.3 0 1,0 -25.5,0 M1412.6,314.1 a12.7,1.3 0 1,0 25.5,0 a12.7,1.3 0 1,0 -25.5,0" opacity="0.74"/>
<path d="M739.4,316.3 a12.9,1.3 0 1,0 25.9,0 a12.9,1.3 0 1,0 -25.9,0 M773.3,316.3 a12.9,1.3 0 1,0 25.9,0 a12.9,1.3 0 1,0 -25.9,0 M807.2,316.3 a12.9,1.3 0 1,0 25.9,0 a12.9,1.3 0 1,0 -25.9,0 M841.1,316.3 a12.9,1.3 0 1,0 25.9,0 a12.9,1.3 0 1,0 -25.9,0 M875,316.3 a12.9,1.3 0 1,0 25.9,0 a12.9,1.3 0 1,0 -25.9,0 M908.9,316.3 a12.9,1.3 0 1,0 25.9,0 a12.9,1.3 0 1,0 -25.9,0 M942.8,316.3 a12.9,1.3 0 1,0 25.9,0 a12.9,1.3 0 1,0 -25.9,0 M976.7,316.3 a12.9,1.3 0 1,0 25.9,0 a12.9,1.3 0 1,0 -25.9,0 M1010.6,316.3 a12.9,1.3 0 1,0 25.9,0 a12.9,1.3 0 1,0 -25.9,0 M1044.4,316.3 a12.9,1.3 0 1,0 25.9,0 a12.9,1.3 0 1,0 -25.9,0 M1078.3,316.3 a12.9,1.3 0 1,0 25.9,0 a12.9,1.3 0 1,0 -25.9,0 M1112.2,316.3 a12.9,1.3 0 1,0 25.9,0 a12.9,1.3 0 1,0 -25.9,0 M1146.1,316.3 a12.9,1.3 0 1,0 25.9,0 a12.9,1.3 0 1,0 -25.9,0 M1180,316.3 a12.9,1.3 0 1,0 25.9,0 a12.9,1.3 0 1,0 -25.9,0 M1213.9,316.3 a12.9,1.3 0 1,0 25.9,0 a12.9,1.3 0 1,0 -25.9,0 M1247.8,316.3 a12.9,1.3 0 1,0 25.9,0 a12.9,1.3 0 1,0 -25.9,0 M1281.7,316.3 a12.9,1.3 0 1,0 25.9,0 a12.9,1.3 0 1,0 -25.9,0 M1315.6,316.3 a12.9,1.3 0 1,0 25.9,0 a12.9,1.3 0 1,0 -25.9,0 M1349.5,316.3 a12.9,1.3 0 1,0 25.9,0 a12.9,1.3 0 1,0 -25.9,0 M1383.4,316.3 a12.9,1.3 0 1,0 25.9,0 a12.9,1.3 0 1,0 -25.9,0 M1417.3,316.3 a12.9,1.3 0 1,0 25.9,0 a12.9,1.3 0 1,0 -25.9,0" opacity="0.77"/>
<path d="M733.8,318.5 a13.1,1.4 0 1,0 26.3,0 a13.1,1.4 0 1,0 -26.3,0 M768.2,318.5 a13.1,1.4 0 1,0 26.3,0 a13.1,1.4 0 1,0 -26.3,0 M802.6,318.5 a13.1,1.4 0 1,0 26.3,0 a13.1,1.4 0 1,0 -26.3,0 M837,318.5 a13.1,1.4 0 1,0 26.3,0 a13.1,1.4 0 1,0 -26.3,0 M871.4,318.5 a13.1,1.4 0 1,0 26.3,0 a13.1,1.4 0 1,0 -26.3,0 M905.8,318.5 a13.1,1.4 0 1,0 26.3,0 a13.1,1.4 0 1,0 -26.3,0 M940.2,318.5 a13.1,1.4 0 1,0 26.3,0 a13.1,1.4 0 1,0 -26.3,0 M974.6,318.5 a13.1,1.4 0 1,0 26.3,0 a13.1,1.4 0 1,0 -26.3,0 M1009,318.5 a13.1,1.4 0 1,0 26.3,0 a13.1,1.4 0 1,0 -26.3,0 M1043.5,318.5 a13.1,1.4 0 1,0 26.3,0 a13.1,1.4 0 1,0 -26.3,0 M1077.9,318.5 a13.1,1.4 0 1,0 26.3,0 a13.1,1.4 0 1,0 -26.3,0 M1112.3,318.5 a13.1,1.4 0 1,0 26.3,0 a13.1,1.4 0 1,0 -26.3,0 M1146.7,318.5 a13.1,1.4 0 1,0 26.3,0 a13.1,1.4 0 1,0 -26.3,0 M1181.1,318.5 a13.1,1.4 0 1,0 26.3,0 a13.1,1.4 0 1,0 -26.3,0 M1215.5,318.5 a13.1,1.4 0 1,0 26.3,0 a13.1,1.4 0 1,0 -26.3,0 M1249.9,318.5 a13.1,1.4 0 1,0 26.3,0 a13.1,1.4 0 1,0 -26.3,0 M1284.3,318.5 a13.1,1.4 0 1,0 26.3,0 a13.1,1.4 0 1,0 -26.3,0 M1318.7,318.5 a13.1,1.4 0 1,0 26.3,0 a13.1,1.4 0 1,0 -26.3,0 M1353.1,318.5 a13.1,1.4 0 1,0 26.3,0 a13.1,1.4 0 1,0 -26.3,0 M1387.5,318.5 a13.1,1.4 0 1,0 26.3,0 a13.1,1.4 0 1,0 -26.3,0 M1421.9,318.5 a13.1,1.4 0 1,0 26.3,0 a13.1,1.4 0 1,0 -26.3,0" opacity="0.80"/>
<path d="M728.2,320.7 a13.3,1.4 0 1,0 26.6,0 a13.3,1.4 0 1,0 -26.6,0 M763.1,320.7 a13.3,1.4 0 1,0 26.6,0 a13.3,1.4 0 1,0 -26.6,0 M798,320.7 a13.3,1.4 0 1,0 26.6,0 a13.3,1.4 0 1,0 -26.6,0 M832.9,320.7 a13.3,1.4 0 1,0 26.6,0 a13.3,1.4 0 1,0 -26.6,0 M867.9,320.7 a13.3,1.4 0 1,0 26.6,0 a13.3,1.4 0 1,0 -26.6,0 M902.8,320.7 a13.3,1.4 0 1,0 26.6,0 a13.3,1.4 0 1,0 -26.6,0 M937.7,320.7 a13.3,1.4 0 1,0 26.6,0 a13.3,1.4 0 1,0 -26.6,0 M972.6,320.7 a13.3,1.4 0 1,0 26.6,0 a13.3,1.4 0 1,0 -26.6,0 M1007.5,320.7 a13.3,1.4 0 1,0 26.6,0 a13.3,1.4 0 1,0 -26.6,0 M1042.5,320.7 a13.3,1.4 0 1,0 26.6,0 a13.3,1.4 0 1,0 -26.6,0 M1077.4,320.7 a13.3,1.4 0 1,0 26.6,0 a13.3,1.4 0 1,0 -26.6,0 M1112.3,320.7 a13.3,1.4 0 1,0 26.6,0 a13.3,1.4 0 1,0 -26.6,0 M1147.2,320.7 a13.3,1.4 0 1,0 26.6,0 a13.3,1.4 0 1,0 -26.6,0 M1182.1,320.7 a13.3,1.4 0 1,0 26.6,0 a13.3,1.4 0 1,0 -26.6,0 M1217.1,320.7 a13.3,1.4 0 1,0 26.6,0 a13.3,1.4 0 1,0 -26.6,0 M1252,320.7 a13.3,1.4 0 1,0 26.6,0 a13.3,1.4 0 1,0 -26.6,0 M1286.9,320.7 a13.3,1.4 0 1,0 26.6,0 a13.3,1.4 0 1,0 -26.6,0 M1321.8,320.7 a13.3,1.4 0 1,0 26.6,0 a13.3,1.4 0 1,0 -26.6,0 M1356.7,320.7 a13.3,1.4 0 1,0 26.6,0 a13.3,1.4 0 1,0 -26.6,0 M1391.6,320.7 a13.3,1.4 0 1,0 26.6,0 a13.3,1.4 0 1,0 -26.6,0 M1426.6,320.7 a13.3,1.4 0 1,0 26.6,0 a13.3,1.4 0 1,0 -26.6,0" opacity="0.83"/>
<path d="M722.6,322.9 a13.5,1.4 0 1,0 27,0 a13.5,1.4 0 1,0 -27,0 M758,322.9 a13.5,1.4 0 1,0 27,0 a13.5,1.4 0 1,0 -27,0 M793.4,322.9 a13.5,1.4 0 1,0 27,0 a13.5,1.4 0 1,0 -27,0 M828.9,322.9 a13.5,1.4 0 1,0 27,0 a13.5,1.4 0 1,0 -27,0 M864.3,322.9 a13.5,1.4 0 1,0 27,0 a13.5,1.4 0 1,0 -27,0 M899.7,322.9 a13.5,1.4 0 1,0 27,0 a13.5,1.4 0 1,0 -27,0 M935.2,322.9 a13.5,1.4 0 1,0 27,0 a13.5,1.4 0 1,0 -27,0 M970.6,322.9 a13.5,1.4 0 1,0 27,0 a13.5,1.4 0 1,0 -27,0 M1006,322.9 a13.5,1.4 0 1,0 27,0 a13.5,1.4 0 1,0 -27,0 M1041.5,322.9 a13.5,1.4 0 1,0 27,0 a13.5,1.4 0 1,0 -27,0 M1076.9,322.9 a13.5,1.4 0 1,0 27,0 a13.5,1.4 0 1,0 -27,0 M1112.3,322.9 a13.5,1.4 0 1,0 27,0 a13.5,1.4 0 1,0 -27,0 M1147.8,322.9 a13.5,1.4 0 1,0 27,0 a13.5,1.4 0 1,0 -27,0 M1183.2,322.9 a13.5,1.4 0 1,0 27,0 a13.5,1.4 0 1,0 -27,0 M1218.6,322.9 a13.5,1.4 0 1,0 27,0 a13.5,1.4 0 1,0 -27,0 M1254.1,322.9 a13.5,1.4 0 1,0 27,0 a13.5,1.4 0 1,0 -27,0 M1289.5,322.9 a13.5,1.4 0 1,0 27,0 a13.5,1.4 0 1,0 -27,0 M1324.9,322.9 a13.5,1.4 0 1,0 27,0 a13.5,1.4 0 1,0 -27,0 M1360.4,322.9 a13.5,1.4 0 1,0 27,0 a13.5,1.4 0 1,0 -27,0 M1395.8,322.9 a13.5,1.4 0 1,0 27,0 a13.5,1.4 0 1,0 -27,0 M1431.2,322.9 a13.5,1.4 0 1,0 27,0 a13.5,1.4 0 1,0 -27,0" opacity="0.86"/>
<path d="M717,325.1 a13.7,1.4 0 1,0 27.4,0 a13.7,1.4 0 1,0 -27.4,0 M752.9,325.1 a13.7,1.4 0 1,0 27.4,0 a13.7,1.4 0 1,0 -27.4,0 M788.9,325.1 a13.7,1.4 0 1,0 27.4,0 a13.7,1.4 0 1,0 -27.4,0 M824.8,325.1 a13.7,1.4 0 1,0 27.4,0 a13.7,1.4 0 1,0 -27.4,0 M860.7,325.1 a13.7,1.4 0 1,0 27.4,0 a13.7,1.4 0 1,0 -27.4,0 M896.7,325.1 a13.7,1.4 0 1,0 27.4,0 a13.7,1.4 0 1,0 -27.4,0 M932.6,325.1 a13.7,1.4 0 1,0 27.4,0 a13.7,1.4 0 1,0 -27.4,0 M968.6,325.1 a13.7,1.4 0 1,0 27.4,0 a13.7,1.4 0 1,0 -27.4,0 M1004.5,325.1 a13.7,1.4 0 1,0 27.4,0 a13.7,1.4 0 1,0 -27.4,0 M1040.5,325.1 a13.7,1.4 0 1,0 27.4,0 a13.7,1.4 0 1,0 -27.4,0 M1076.4,325.1 a13.7,1.4 0 1,0 27.4,0 a13.7,1.4 0 1,0 -27.4,0 M1112.4,325.1 a13.7,1.4 0 1,0 27.4,0 a13.7,1.4 0 1,0 -27.4,0 M1148.3,325.1 a13.7,1.4 0 1,0 27.4,0 a13.7,1.4 0 1,0 -27.4,0 M1184.3,325.1 a13.7,1.4 0 1,0 27.4,0 a13.7,1.4 0 1,0 -27.4,0 M1220.2,325.1 a13.7,1.4 0 1,0 27.4,0 a13.7,1.4 0 1,0 -27.4,0 M1256.1,325.1 a13.7,1.4 0 1,0 27.4,0 a13.7,1.4 0 1,0 -27.4,0 M1292.1,325.1 a13.7,1.4 0 1,0 27.4,0 a13.7,1.4 0 1,0 -27.4,0 M1328,325.1 a13.7,1.4 0 1,0 27.4,0 a13.7,1.4 0 1,0 -27.4,0 M1364,325.1 a13.7,1.4 0 1,0 27.4,0 a13.7,1.4 0 1,0 -27.4,0 M1399.9,325.1 a13.7,1.4 0 1,0 27.4,0 a13.7,1.4 0 1,0 -27.4,0" opacity="0.89"/>
<path d="M711.3,327.2 a13.9,1.4 0 1,0 27.8,0 a13.9,1.4 0 1,0 -27.8,0 M747.8,327.2 a13.9,1.4 0 1,0 27.8,0 a13.9,1.4 0 1,0 -27.8,0 M784.3,327.2 a13.9,1.4 0 1,0 27.8,0 a13.9,1.4 0 1,0 -27.8,0 M820.7,327.2 a13.9,1.4 0 1,0 27.8,0 a13.9,1.4 0 1,0 -27.8,0 M857.2,327.2 a13.9,1.4 0 1,0 27.8,0 a13.9,1.4 0 1,0 -27.8,0 M893.6,327.2 a13.9,1.4 0 1,0 27.8,0 a13.9,1.4 0 1,0 -27.8,0 M930.1,327.2 a13.9,1.4 0 1,0 27.8,0 a13.9,1.4 0 1,0 -27.8,0 M966.6,327.2 a13.9,1.4 0 1,0 27.8,0 a13.9,1.4 0 1,0 -27.8,0 M1003,327.2 a13.9,1.4 0 1,0 27.8,0 a13.9,1.4 0 1,0 -27.8,0 M1039.5,327.2 a13.9,1.4 0 1,0 27.8,0 a13.9,1.4 0 1,0 -27.8,0 M1075.9,327.2 a13.9,1.4 0 1,0 27.8,0 a13.9,1.4 0 1,0 -27.8,0 M1112.4,327.2 a13.9,1.4 0 1,0 27.8,0 a13.9,1.4 0 1,0 -27.8,0 M1148.9,327.2 a13.9,1.4 0 1,0 27.8,0 a13.9,1.4 0 1,0 -27.8,0 M1185.3,327.2 a13.9,1.4 0 1,0 27.8,0 a13.9,1.4 0 1,0 -27.8,0 M1221.8,327.2 a13.9,1.4 0 1,0 27.8,0 a13.9,1.4 0 1,0 -27.8,0 M1258.2,327.2 a13.9,1.4 0 1,0 27.8,0 a13.9,1.4 0 1,0 -27.8,0 M1294.7,327.2 a13.9,1.4 0 1,0 27.8,0 a13.9,1.4 0 1,0 -27.8,0 M1331.2,327.2 a13.9,1.4 0 1,0 27.8,0 a13.9,1.4 0 1,0 -27.8,0 M1367.6,327.2 a13.9,1.4 0 1,0 27.8,0 a13.9,1.4 0 1,0 -27.8,0 M1404.1,327.2 a13.9,1.4 0 1,0 27.8,0 a13.9,1.4 0 1,0 -27.8,0" opacity="0.92"/>
<path d="M705.7,329.4 a14.1,1.5 0 1,0 28.2,0 a14.1,1.5 0 1,0 -28.2,0 M742.7,329.4 a14.1,1.5 0 1,0 28.2,0 a14.1,1.5 0 1,0 -28.2,0 M779.7,329.4 a14.1,1.5 0 1,0 28.2,0 a14.1,1.5 0 1,0 -28.2,0 M816.6,329.4 a14.1,1.5 0 1,0 28.2,0 a14.1,1.5 0 1,0 -28.2,0 M853.6,329.4 a14.1,1.5 0 1,0 28.2,0 a14.1,1.5 0 1,0 -28.2,0 M890.6,329.4 a14.1,1.5 0 1,0 28.2,0 a14.1,1.5 0 1,0 -28.2,0 M927.6,329.4 a14.1,1.5 0 1,0 28.2,0 a14.1,1.5 0 1,0 -28.2,0 M964.5,329.4 a14.1,1.5 0 1,0 28.2,0 a14.1,1.5 0 1,0 -28.2,0 M1001.5,329.4 a14.1,1.5 0 1,0 28.2,0 a14.1,1.5 0 1,0 -28.2,0 M1038.5,329.4 a14.1,1.5 0 1,0 28.2,0 a14.1,1.5 0 1,0 -28.2,0 M1075.5,329.4 a14.1,1.5 0 1,0 28.2,0 a14.1,1.5 0 1,0 -28.2,0 M1112.4,329.4 a14.1,1.5 0 1,0 28.2,0 a14.1,1.5 0 1,0 -28.2,0 M1149.4,329.4 a14.1,1.5 0 1,0 28.2,0 a14.1,1.5 0 1,0 -28.2,0 M1186.4,329.4 a14.1,1.5 0 1,0 28.2,0 a14.1,1.5 0 1,0 -28.2,0 M1223.4,329.4 a14.1,1.5 0 1,0 28.2,0 a14.1,1.5 0 1,0 -28.2,0 M1260.3,329.4 a14.1,1.5 0 1,0 28.2,0 a14.1,1.5 0 1,0 -28.2,0 M1297.3,329.4 a14.1,1.5 0 1,0 28.2,0 a14.1,1.5 0 1,0 -28.2,0 M1334.3,329.4 a14.1,1.5 0 1,0 28.2,0 a14.1,1.5 0 1,0 -28.2,0 M1371.2,329.4 a14.1,1.5 0 1,0 28.2,0 a14.1,1.5 0 1,0 -28.2,0 M1408.2,329.4 a14.1,1.5 0 1,0 28.2,0 a14.1,1.5 0 1,0 -28.2,0" opacity="0.95"/>
<path d="M700.1,331.6 a14.3,1.5 0 1,0 28.6,0 a14.3,1.5 0 1,0 -28.6,0 M737.6,331.6 a14.3,1.5 0 1,0 28.6,0 a14.3,1.5 0 1,0 -28.6,0 M775.1,331.6 a14.3,1.5 0 1,0 28.6,0 a14.3,1.5 0 1,0 -28.6,0 M812.6,331.6 a14.3,1.5 0 1,0 28.6,0 a14.3,1.5 0 1,0 -28.6,0 M850.1,331.6 a14.3,1.5 0 1,0 28.6,0 a14.3,1.5 0 1,0 -28.6,0 M887.5,331.6 a14.3,1.5 0 1,0 28.6,0 a14.3,1.5 0 1,0 -28.6,0 M925,331.6 a14.3,1.5 0 1,0 28.6,0 a14.3,1.5 0 1,0 -28.6,0 M962.5,331.6 a14.3,1.5 0 1,0 28.6,0 a14.3,1.5 0 1,0 -28.6,0 M1000,331.6 a14.3,1.5 0 1,0 28.6,0 a14.3,1.5 0 1,0 -28.6,0 M1037.5,331.6 a14.3,1.5 0 1,0 28.6,0 a14.3,1.5 0 1,0 -28.6,0 M1075,331.6 a14.3,1.5 0 1,0 28.6,0 a14.3,1.5 0 1,0 -28.6,0 M1112.5,331.6 a14.3,1.5 0 1,0 28.6,0 a14.3,1.5 0 1,0 -28.6,0 M1150,331.6 a14.3,1.5 0 1,0 28.6,0 a14.3,1.5 0 1,0 -28.6,0 M1187.4,331.6 a14.3,1.5 0 1,0 28.6,0 a14.3,1.5 0 1,0 -28.6,0 M1224.9,331.6 a14.3,1.5 0 1,0 28.6,0 a14.3,1.5 0 1,0 -28.6,0 M1262.4,331.6 a14.3,1.5 0 1,0 28.6,0 a14.3,1.5 0 1,0 -28.6,0 M1299.9,331.6 a14.3,1.5 0 1,0 28.6,0 a14.3,1.5 0 1,0 -28.6,0 M1337.4,331.6 a14.3,1.5 0 1,0 28.6,0 a14.3,1.5 0 1,0 -28.6,0 M1374.9,331.6 a14.3,1.5 0 1,0 28.6,0 a14.3,1.5 0 1,0 -28.6,0 M1412.4,331.6 a14.3,1.5 0 1,0 28.6,0 a14.3,1.5 0 1,0 -28.6,0" opacity="0.97"/>
<path d="M694.5,333.8 a14.5,1.5 0 1,0 29,0 a14.5,1.5 0 1,0 -29,0 M732.5,333.8 a14.5,1.5 0 1,0 29,0 a14.5,1.5 0 1,0 -29,0 M770.5,333.8 a14.5,1.5 0 1,0 29,0 a14.5,1.5 0 1,0 -29,0 M808.5,333.8 a14.5,1.5 0 1,0 29,0 a14.5,1.5 0 1,0 -29,0 M846.5,333.8 a14.5,1.5 0 1,0 29,0 a14.5,1.5 0 1,0 -29,0 M884.5,333.8 a14.5,1.5 0 1,0 29,0 a14.5,1.5 0 1,0 -29,0 M922.5,333.8 a14.5,1.5 0 1,0 29,0 a14.5,1.5 0 1,0 -29,0 M960.5,333.8 a14.5,1.5 0 1,0 29,0 a14.5,1.5 0 1,0 -29,0 M998.5,333.8 a14.5,1.5 0 1,0 29,0 a14.5,1.5 0 1,0 -29,0 M1036.5,333.8 a14.5,1.5 0 1,0 29,0 a14.5,1.5 0 1,0 -29,0 M1074.5,333.8 a14.5,1.5 0 1,0 29,0 a14.5,1.5 0 1,0 -29,0 M1112.5,333.8 a14.5,1.5 0 1,0 29,0 a14.5,1.5 0 1,0 -29,0 M1150.5,333.8 a14.5,1.5 0 1,0 29,0 a14.5,1.5 0 1,0 -29,0 M1188.5,333.8 a14.5,1.5 0 1,0 29,0 a14.5,1.5 0 1,0 -29,0 M1226.5,333.8 a14.5,1.5 0 1,0 29,0 a14.5,1.5 0 1,0 -29,0 M1264.5,333.8 a14.5,1.5 0 1,0 29,0 a14.5,1.5 0 1,0 -29,0 M1302.5,333.8 a14.5,1.5 0 1,0 29,0 a14.5,1.5 0 1,0 -29,0 M1340.5,333.8 a14.5,1.5 0 1,0 29,0 a14.5,1.5 0 1,0 -29,0 M1378.5,333.8 a14.5,1.5 0 1,0 29,0 a14.5,1.5 0 1,0 -29,0 M1416.5,333.8 a14.5,1.5 0 1,0 29,0 a14.5,1.5 0 1,0 -29,0" opacity="1.00"/>
<path d="M709,333.8 L790.3,301 M747,333.8 L820.6,301 M785,333.8 L850.9,301 M823,333.8 L881.2,301 M861,333.8 L911.5,301 M899,333.8 L941.8,301 M937,333.8 L972.1,301 M975,333.8 L1002.4,301 M1013,333.8 L1032.7,301 M1051,333.8 L1063,301 M1089,333.8 L1093.3,301 M1127,333.8 L1123.6,301 M1165,333.8 L1153.9,301 M1203,333.8 L1184.1,301 M1241,333.8 L1214.4,301 M1279,333.8 L1244.7,301 M1317,333.8 L1275,301 M1355,333.8 L1305.3,301 M1393,333.8 L1335.6,301 M1431,333.8 L1365.9,301 M1469,333.8 L1396.2,301 M1507,333.8 L1426.5,301 M1545,333.8 L1456.8,301" stroke="#b5b5b5" stroke-width="1" fill="none"/>
</g>
<rect x="700" y="296" width="260" height="92" fill="url(#spleft)" clip-path="url(#whitezone)"/>
</g>
<path d="M714.6,331.4 L795.7,301.2" fill="none" stroke="#4a4a4a" stroke-width="1.2"/>
<path d="M714.2,333.8 H1412" fill="none" stroke="#c9c9c9" stroke-width="2"/>
<path d="M714.2,335 H1412" fill="none" stroke="#666" stroke-width=".6"/>
<path d="M714.2,383.2 H1412" fill="none" stroke="#c4c4c4" stroke-width="2.2"/>
<path d="M714.2,384.5 H1412" fill="none" stroke="#888" stroke-width=".7"/>
<polygon points="641.8,300.1 759.2,268.1 1412,268.1 1412,299.6" fill="url(#felt1)" filter="url(#feltn)"/>
<g id="purple">
<polygon points="646.5,246.9 761,228.2 1412,228.2 1412,246.9" fill="url(#ptop)"/>
<path d="M644.2,249.5 Q644.2,246.1 648,246.1 H1412 V260.9 H647.5 Q644.2,260.9 644.2,257.7 Z" fill="url(#pfront)" filter="url(#speck)"/>
</g>
<g id="cover">
<rect x="627.5" y="203" width="790" height="7.6" rx="2" fill="url(#pipe)"/>
<g clip-path="url(#coverclip)">
<rect x="625" y="95" width="800" height="112" fill="url(#tex)"/>
<path d="M611,205 L736.3,108 Q744.9,101.2 759.5,98.3 M627.5,205 L752.8,108 Q761.4,101.2 776,98.3 M644,205 L769.3,108 Q777.9,101.2 792.5,98.3 M660.5,205 L785.8,108 Q794.4,101.2 809,98.3 M677,205 L802.3,108 Q810.9,101.2 825.5,98.3 M817,205 L942.3,108 Q950.9,101.2 965.5,98.3 M833.5,205 L958.8,108 Q967.4,101.2 982,98.3 M850,205 L975.3,108 Q983.9,101.2 998.5,98.3 M866.5,205 L991.8,108 Q1000.4,101.2 1015,98.3 M883,205 L1008.3,108 Q1016.9,101.2 1031.5,98.3 M899.5,205 L1024.8,108 Q1033.4,101.2 1048,98.3 M1027.7,205 L1153,108 Q1161.6,101.2 1176.2,98.3 M1044.2,205 L1169.5,108 Q1178.1,101.2 1192.7,98.3 M1060.7,205 L1186,108 Q1194.6,101.2 1209.2,98.3 M1077.2,205 L1202.5,108 Q1211.1,101.2 1225.7,98.3 M1093.7,205 L1219,108 Q1227.6,101.2 1242.2,98.3 M1231.5,205 L1356.8,108 Q1365.4,101.2 1380,98.3 M1248,205 L1373.3,108 Q1381.9,101.2 1396.5,98.3 M1264.5,205 L1389.8,108 Q1398.4,101.2 1413,98.3 M1281,205 L1406.3,108 Q1414.9,101.2 1429.5,98.3 M1297.5,205 L1422.8,108 Q1431.4,101.2 1446,98.3 M1314,205 L1439.3,108 Q1447.9,101.2 1462.5,98.3" class="fl"/>
<path d="M616,88 V181.7 L625.2,177.7 Q678.6,133.3 737.2,95.9 L740.2,88 Z" fill="url(#gtex)"/>
<path d="M624.7,113.5 Q639.8,103 657.3,96.8 M624.8,127.5 Q650.9,109.5 680,96.6 M624.8,140.6 Q662.1,115.6 702.9,96.6 M624.8,154.2 Q671.7,121.9 722.6,96.6 M625,167.3 Q676.9,128 733.9,96.4" class="wl"/>
<path d="M701.5,203 L815.4,113 Q826.8,104 855.5,98.3 L949,98.3 Q928.8,102.3 924.2,106 L803,203 Z" fill="url(#gtex)"/>
<path d="M715.2,205 L835.4,111.9 Q848.5,101.5 864.4,98.3 M732.3,205 L853.7,110.7 Q864.8,101.9 882.6,98.3 M749.2,205 L871.8,109.5 Q881,102.3 900.8,98.3 M767.5,205 L891.4,108.3 Q898.9,102.3 919.1,98.3 M784.1,205 L909.1,107.1 Q915,102.5 935.9,98.3" class="wl"/>
<path d="M909.5,203 L1024.9,113 Q1035.9,104.4 1066.4,98.3 L1152,98.3 Q1140,100.7 1133.5,106 L1013.7,203 Z" fill="url(#gtex)"/>
<path d="M923.6,205 L1044.8,111.9 Q1057.9,101.6 1074.5,98.3 M941.1,205 L1063.1,110.7 Q1074.5,101.6 1091.2,98.3 M958.6,205 L1081.2,109.5 Q1091.1,101.7 1107.9,98.3 M977.3,205 L1100.7,108.3 Q1109.4,101.4 1124.6,98.3 M994.3,205 L1118.4,107.1 Q1125.8,101.1 1140,98.3" class="wl"/>
<path d="M1117,203 L1228.5,116 Q1249.2,99.9 1257,98.3 L1357,98.3 Q1344.4,100.8 1338,106 L1217.5,203 Z" fill="url(#gtex)"/>
<path d="M1130.5,205 L1248.6,114.4 Q1257.6,106.3 1266.5,98.3 M1147.4,205 L1267,112.7 Q1285.1,98.5 1286,98.3 M1164.2,205 L1285.3,111 Q1300,99.4 1305.5,98.3 M1182.3,205 L1305,109.2 Q1316.6,100 1325,98.3 M1198.7,205 L1322.8,107.6 Q1331.6,100.6 1343,98.3" class="wl"/>
<path d="M1333.7,203 L1449.3,114 Q1465.3,101.6 1482,98.3 L1572,98.3 Q1565.2,99.7 1557.2,106 L1436,203 Z" fill="url(#gtex)"/>
<path d="M1347.5,205 L1469.2,112.7 Q1486.8,99 1490.5,98.3 M1364.7,205 L1487.3,111.4 Q1502.7,99.4 1508.1,98.3 M1381.8,205 L1505.3,110 Q1518.5,99.7 1525.7,98.3 M1400.2,205 L1524.7,108.6 Q1535.9,99.8 1543.2,98.3 M1416.9,205 L1542.3,107.3 Q1551.7,99.8 1559.4,98.3" class="wl"/>
<rect x="625" y="96" width="800" height="6" fill="url(#tophl)"/>
<rect x="629" y="96" width="6" height="110" fill="url(#lefthl)"/>
</g></g>
<g id="lines">
<path d="M497.7,94 H789.5 V150" class="ln"/>
<circle cx="789.7" cy="155.9" r="10.2" class="dot"/>
<path d="M497.7,168 H710.4 V245" class="ln"/>
<circle cx="709.9" cy="249.9" r="10.2" class="dot"/>
<path d="M497.7,283.5 H770" class="ln"/>
<circle cx="773.9" cy="283.5" r="10.2" class="dot"/>
<path d="M497.7,334.4 H848" class="ln"/>
<circle cx="851.5" cy="334.5" r="10.2" class="dot"/>
<path d="M497.7,394.5 H763" class="ln"/>
<circle cx="766.8" cy="394.5" r="10.2" class="dot"/>
<path d="M497.7,462.9 H706" class="ln"/>
<circle cx="709.6" cy="462.9" r="10.2" class="dot"/>
<path d="M497.7,527.9 H706" class="ln"/>
<circle cx="709.6" cy="527.9" r="10.2" class="dot"/>
</g>
<g id="labels" opacity="0.999">
<text y="109.2"><tspan x="255.42" textLength="107.40" lengthAdjust="spacingAndGlyphs">Surface</tspan> <tspan x="370.27" textLength="61.94" lengthAdjust="spacingAndGlyphs">IWS</tspan> <tspan x="440.54" textLength="38.16" lengthAdjust="spacingAndGlyphs">S3</tspan></text>
<text y="177.9"><tspan x="153.96" textLength="110.14" lengthAdjust="spacingAndGlyphs">Espuma</tspan> <tspan x="273.84" textLength="78.50" lengthAdjust="spacingAndGlyphs">Hight</tspan> <tspan x="361.60" textLength="118.80" lengthAdjust="spacingAndGlyphs">Pressure</tspan></text>
<text y="293.8"><tspan x="218.57" textLength="79.30" lengthAdjust="spacingAndGlyphs">Feltro</tspan> <tspan x="305.91" textLength="177.37" lengthAdjust="spacingAndGlyphs">Termobound</tspan></text>
<text y="350.1"><tspan x="324.29" textLength="99.52" lengthAdjust="spacingAndGlyphs">Molejo</tspan> <tspan x="432.42" textLength="50.50" lengthAdjust="spacingAndGlyphs">LFK</tspan></text>
<text y="404.8"><tspan x="218.57" textLength="79.30" lengthAdjust="spacingAndGlyphs">Feltro</tspan> <tspan x="305.91" textLength="177.37" lengthAdjust="spacingAndGlyphs">Termobound</tspan></text>
<text y="476"><tspan x="362.98" textLength="36.14" lengthAdjust="spacingAndGlyphs">PP</tspan> <tspan x="409.78" textLength="73.19" lengthAdjust="spacingAndGlyphs">Fiber</tspan></text>
<text y="541"><tspan x="224.48" textLength="83.58" lengthAdjust="spacingAndGlyphs">Borda</tspan> <tspan x="317.52" textLength="44.98" lengthAdjust="spacingAndGlyphs">em</tspan> <tspan x="371.51" textLength="109.25" lengthAdjust="spacingAndGlyphs">espuma</tspan></text>
<text x="61.1" y="351.7" style="font-size:22px;fill:#000;stroke:none">.</text>
</g>
</svg>
</body>
</html>
